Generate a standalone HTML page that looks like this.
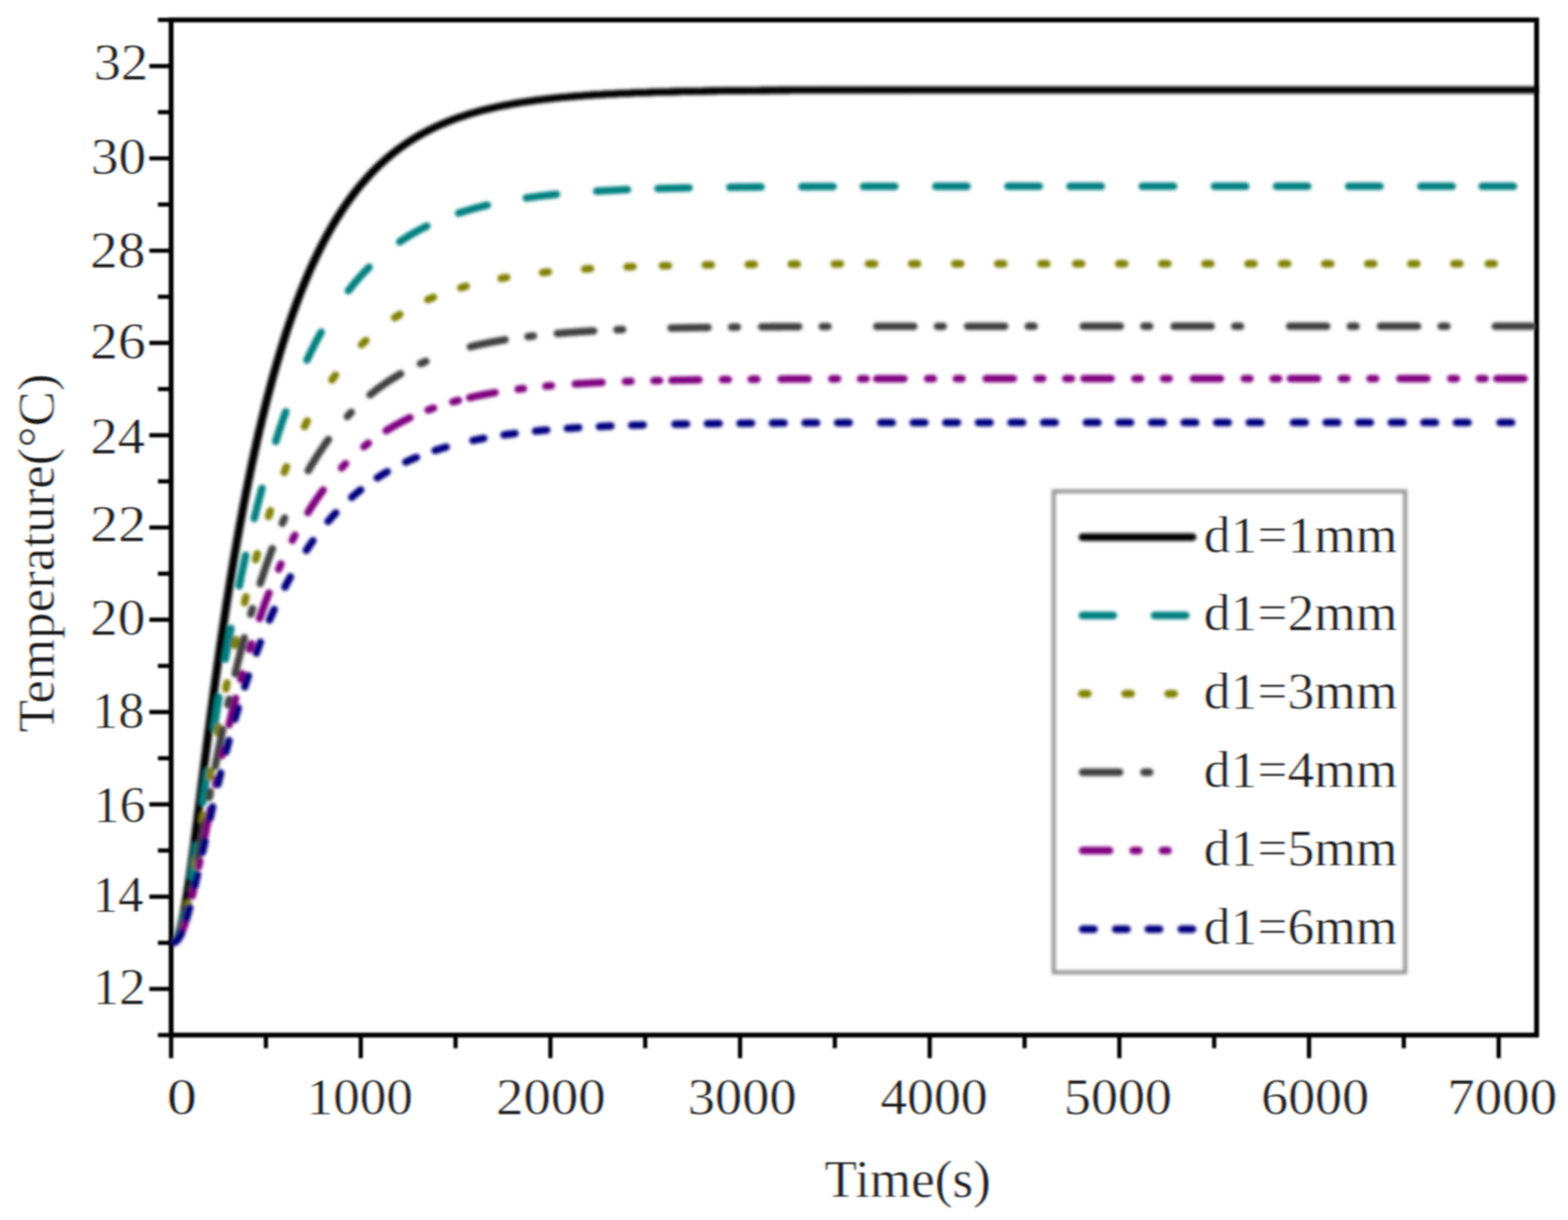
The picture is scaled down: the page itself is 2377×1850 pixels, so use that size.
<!DOCTYPE html>
<html lang="en"><head><meta charset="utf-8"><title>Temperature vs Time</title>
<style>html,body{margin:0;padding:0;background:#fff}body{width:2377px;height:1850px;overflow:hidden}svg{display:block}text{font-family:"Liberation Serif", "DejaVu Serif", serif;fill:#000}</style></head><body>
<svg width="2377" height="1850" viewBox="0 0 2377 1850">
<defs><filter id="bt" filterUnits="userSpaceOnUse" x="0" y="0" width="2377" height="1850"><feGaussianBlur stdDeviation="1.2"/></filter><filter id="ba" filterUnits="userSpaceOnUse" x="0" y="0" width="2377" height="1850"><feGaussianBlur stdDeviation="1.5"/></filter><filter id="bc" filterUnits="userSpaceOnUse" x="0" y="0" width="2377" height="1850"><feGaussianBlur stdDeviation="2.5"/></filter><filter id="ct" filterUnits="userSpaceOnUse" x="0" y="0" width="2377" height="1850" color-interpolation-filters="sRGB"><feColorMatrix in="SourceGraphic" type="matrix" values="0 0 0 0 0  0 0 0 0 0  0 0 0 0 0  -1 0 0 0 1" result="cov"/><feGaussianBlur in="cov" stdDeviation="1.5 1.2" result="a"/><feOffset in="a" dx="1.35" dy="0" result="ar"/><feOffset in="a" dx="-1.35" dy="0" result="ab"/><feColorMatrix in="ar" type="matrix" values="0 0 0 -0.9 1  0 0 0 0 0  0 0 0 0 0  0 0 0 0 1" result="r"/><feColorMatrix in="a" type="matrix" values="0 0 0 0 0  0 0 0 -0.9 1  0 0 0 0 0  0 0 0 0 1" result="g"/><feColorMatrix in="ab" type="matrix" values="0 0 0 0 0  0 0 0 0 0  0 0 0 -0.9 1  0 0 0 0 1" result="b"/><feComposite in="r" in2="g" operator="arithmetic" k1="0" k2="1" k3="1" k4="0" result="rg"/><feComposite in="rg" in2="b" operator="arithmetic" k1="0" k2="1" k3="1" k4="0"/></filter><clipPath id="plot"><rect x="251.4" y="30.2" width="2079.5" height="1549.4"/></clipPath></defs>
<rect width="2377" height="1850" fill="#fff"/>
<g filter="url(#ct)" stroke="#fff" stroke-width="0.8" stroke-linejoin="round"><rect width="2377" height="1850" fill="#fff" stroke="none"/>
<text x="141.9" y="120.3" font-size="78.5" textLength="82.6" lengthAdjust="spacingAndGlyphs">32</text>
<text x="137.7" y="263.1" font-size="78.5" textLength="83.8" lengthAdjust="spacingAndGlyphs">30</text>
<text x="136.6" y="405.0" font-size="78.5" textLength="83.7" lengthAdjust="spacingAndGlyphs">28</text>
<text x="136.6" y="543.1" font-size="78.5" textLength="84.2" lengthAdjust="spacingAndGlyphs">26</text>
<text x="136.9" y="686.6" font-size="78.5" textLength="82.7" lengthAdjust="spacingAndGlyphs">24</text>
<text x="136.6" y="819.6" font-size="78.5" textLength="85.0" lengthAdjust="spacingAndGlyphs">22</text>
<text x="136.6" y="962.2" font-size="78.5" textLength="83.7" lengthAdjust="spacingAndGlyphs">20</text>
<text x="139.6" y="1103.1" font-size="78.5" textLength="79.2" lengthAdjust="spacingAndGlyphs">18</text>
<text x="141.8" y="1245.7" font-size="78.5" textLength="78.9" lengthAdjust="spacingAndGlyphs">16</text>
<text x="140.5" y="1382.4" font-size="78.5" textLength="76.9" lengthAdjust="spacingAndGlyphs">14</text>
<text x="140.2" y="1521.5" font-size="78.5" textLength="80.4" lengthAdjust="spacingAndGlyphs">12</text>
<text x="253.0" y="1688.8" font-size="78.5" textLength="45.3" lengthAdjust="spacingAndGlyphs">0</text>
<text x="464.7" y="1688.8" font-size="78.5" textLength="161.2" lengthAdjust="spacingAndGlyphs">1000</text>
<text x="752.1" y="1688.8" font-size="78.5" textLength="166.0" lengthAdjust="spacingAndGlyphs">2000</text>
<text x="1042.4" y="1688.8" font-size="78.5" textLength="165.2" lengthAdjust="spacingAndGlyphs">3000</text>
<text x="1334.4" y="1688.8" font-size="78.5" textLength="162.8" lengthAdjust="spacingAndGlyphs">4000</text>
<text x="1612.8" y="1688.8" font-size="78.5" textLength="163.7" lengthAdjust="spacingAndGlyphs">5000</text>
<text x="1911.8" y="1688.8" font-size="78.5" textLength="163.5" lengthAdjust="spacingAndGlyphs">6000</text>
<text x="2193.7" y="1688.8" font-size="78.5" textLength="166.8" lengthAdjust="spacingAndGlyphs">7000</text>
<text x="1249.8" y="1815.0" font-size="80.0" textLength="252.2" lengthAdjust="spacingAndGlyphs">Time(s)</text>
<text transform="translate(80.5 1109.5) rotate(-90)" x="-0.9" y="0" font-size="79.0" textLength="544.0" lengthAdjust="spacingAndGlyphs">Temperature(°C)</text>
<text x="1824.8" y="836.8" font-size="79.0" textLength="293.6" lengthAdjust="spacingAndGlyphs">d1=1mm</text>
<text x="1824.8" y="955.3" font-size="79.0" textLength="293.6" lengthAdjust="spacingAndGlyphs">d1=2mm</text>
<text x="1824.8" y="1074.2" font-size="79.0" textLength="293.6" lengthAdjust="spacingAndGlyphs">d1=3mm</text>
<text x="1824.8" y="1193.0" font-size="79.0" textLength="293.6" lengthAdjust="spacingAndGlyphs">d1=4mm</text>
<text x="1824.8" y="1312.3" font-size="79.0" textLength="293.6" lengthAdjust="spacingAndGlyphs">d1=5mm</text>
<text x="1824.8" y="1431.0" font-size="79.0" textLength="293.6" lengthAdjust="spacingAndGlyphs">d1=6mm</text>
</g>
<g filter="url(#ba)"><g stroke="#000" fill="none">
<rect x="259.4" y="30.2" width="2070.0" height="1539.4" stroke-width="7.4"/>
<line x1="239.4" y1="1569.6" x2="259.4" y2="1569.6" stroke-width="6.4"/>
<line x1="226.4" y1="1499.6" x2="259.4" y2="1499.6" stroke-width="6.4"/>
<line x1="239.4" y1="1429.7" x2="259.4" y2="1429.7" stroke-width="6.4"/>
<line x1="226.4" y1="1359.7" x2="259.4" y2="1359.7" stroke-width="6.4"/>
<line x1="239.4" y1="1289.7" x2="259.4" y2="1289.7" stroke-width="6.4"/>
<line x1="226.4" y1="1219.7" x2="259.4" y2="1219.7" stroke-width="6.4"/>
<line x1="239.4" y1="1149.8" x2="259.4" y2="1149.8" stroke-width="6.4"/>
<line x1="226.4" y1="1079.8" x2="259.4" y2="1079.8" stroke-width="6.4"/>
<line x1="239.4" y1="1009.8" x2="259.4" y2="1009.8" stroke-width="6.4"/>
<line x1="226.4" y1="939.8" x2="259.4" y2="939.8" stroke-width="6.4"/>
<line x1="239.4" y1="869.9" x2="259.4" y2="869.9" stroke-width="6.4"/>
<line x1="226.4" y1="799.9" x2="259.4" y2="799.9" stroke-width="6.4"/>
<line x1="239.4" y1="729.9" x2="259.4" y2="729.9" stroke-width="6.4"/>
<line x1="226.4" y1="660.0" x2="259.4" y2="660.0" stroke-width="6.4"/>
<line x1="239.4" y1="590.0" x2="259.4" y2="590.0" stroke-width="6.4"/>
<line x1="226.4" y1="520.0" x2="259.4" y2="520.0" stroke-width="6.4"/>
<line x1="239.4" y1="450.0" x2="259.4" y2="450.0" stroke-width="6.4"/>
<line x1="226.4" y1="380.1" x2="259.4" y2="380.1" stroke-width="6.4"/>
<line x1="239.4" y1="310.1" x2="259.4" y2="310.1" stroke-width="6.4"/>
<line x1="226.4" y1="240.1" x2="259.4" y2="240.1" stroke-width="6.4"/>
<line x1="239.4" y1="170.1" x2="259.4" y2="170.1" stroke-width="6.4"/>
<line x1="226.4" y1="100.2" x2="259.4" y2="100.2" stroke-width="6.4"/>
<line x1="239.4" y1="30.2" x2="259.4" y2="30.2" stroke-width="6.4"/>
<line x1="259.4" y1="1569.6" x2="259.4" y2="1604.6" stroke-width="6.4"/>
<line x1="403.1" y1="1569.6" x2="403.1" y2="1589.6" stroke-width="6.4"/>
<line x1="546.9" y1="1569.6" x2="546.9" y2="1604.6" stroke-width="6.4"/>
<line x1="690.6" y1="1569.6" x2="690.6" y2="1589.6" stroke-width="6.4"/>
<line x1="834.4" y1="1569.6" x2="834.4" y2="1604.6" stroke-width="6.4"/>
<line x1="978.1" y1="1569.6" x2="978.1" y2="1589.6" stroke-width="6.4"/>
<line x1="1121.9" y1="1569.6" x2="1121.9" y2="1604.6" stroke-width="6.4"/>
<line x1="1265.6" y1="1569.6" x2="1265.6" y2="1589.6" stroke-width="6.4"/>
<line x1="1409.4" y1="1569.6" x2="1409.4" y2="1604.6" stroke-width="6.4"/>
<line x1="1553.2" y1="1569.6" x2="1553.2" y2="1589.6" stroke-width="6.4"/>
<line x1="1696.9" y1="1569.6" x2="1696.9" y2="1604.6" stroke-width="6.4"/>
<line x1="1840.6" y1="1569.6" x2="1840.6" y2="1589.6" stroke-width="6.4"/>
<line x1="1984.4" y1="1569.6" x2="1984.4" y2="1604.6" stroke-width="6.4"/>
<line x1="2128.1" y1="1569.6" x2="2128.1" y2="1589.6" stroke-width="6.4"/>
<line x1="2271.9" y1="1569.6" x2="2271.9" y2="1604.6" stroke-width="6.4"/>
</g></g>
<g filter="url(#bc)"><g fill="none" stroke-linejoin="round" stroke-linecap="round" clip-path="url(#plot)">
<path d="M259.4 1429.7 L262.4 1429.3 L264.9 1427.8 L266.8 1425.4 L268.3 1422.8 L269.5 1420.1 L270.6 1417.3 L271.5 1414.5 L272.4 1411.6 L273.2 1408.7 L274.0 1405.8 L274.7 1402.9 L275.4 1400.0 L276.1 1397.1 L276.7 1394.1 L277.3 1391.2 L277.9 1388.3 L278.5 1385.3 L279.1 1382.4 L279.6 1379.4 L280.2 1376.5 L280.7 1373.5 L281.2 1370.6 L281.7 1367.6 L282.2 1364.7 L282.7 1361.7 L283.2 1358.7 L283.6 1355.8 L284.1 1352.8 L284.6 1349.9 L285.0 1346.9 L285.5 1343.9 L285.9 1341.0 L286.4 1338.0 L286.8 1335.0 L287.2 1332.1 L287.7 1329.1 L288.1 1326.1 L288.5 1323.2 L288.9 1320.2 L289.3 1317.2 L289.8 1314.3 L290.2 1311.3 L290.6 1308.3 L291.0 1305.4 L291.4 1302.4 L291.8 1299.4 L292.2 1296.4 L292.6 1293.5 L293.0 1290.5 L293.4 1287.5 L293.8 1284.6 L294.2 1281.6 L294.6 1278.6 L294.9 1275.6 L295.3 1272.7 L295.7 1269.7 L296.1 1266.7 L296.5 1263.7 L296.9 1260.8 L297.3 1257.8 L297.6 1254.8 L298.0 1251.8 L298.4 1248.9 L298.8 1245.9 L299.2 1242.9 L299.5 1240.0 L299.9 1237.0 L300.3 1234.0 L300.7 1231.0 L301.1 1228.1 L301.4 1225.1 L301.8 1222.1 L302.2 1219.1 L302.6 1216.2 L302.9 1213.2 L303.3 1210.2 L303.7 1207.2 L304.1 1204.3 L304.4 1201.3 L304.8 1198.3 L305.2 1195.3 L305.6 1192.4 L305.9 1189.4 L306.3 1186.4 L306.7 1183.4 L307.1 1180.5 L307.5 1177.5 L307.8 1174.5 L308.2 1171.5 L308.6 1168.6 L309.0 1165.6 L309.3 1162.6 L309.7 1159.6 L310.1 1156.7 L310.5 1153.7 L310.9 1150.7 L311.2 1147.7 L311.6 1144.8 L312.0 1141.8 L312.4 1138.8 L312.8 1135.9 L313.1 1132.9 L313.5 1129.9 L313.9 1126.9 L314.3 1124.0 L314.7 1121.0 L315.1 1118.0 L315.4 1115.0 L315.8 1112.1 L316.2 1109.1 L316.6 1106.1 L317.0 1103.1 L317.4 1100.2 L317.8 1097.2 L318.2 1094.2 L318.5 1091.3 L318.9 1088.3 L319.3 1085.3 L319.7 1082.3 L320.1 1079.4 L320.5 1076.4 L320.9 1073.4 L321.3 1070.4 L321.7 1067.5 L322.1 1064.5 L322.5 1061.5 L322.9 1058.6 L323.3 1055.6 L323.7 1052.6 L324.1 1049.6 L324.5 1046.7 L324.9 1043.7 L325.3 1040.7 L325.7 1037.8 L326.1 1034.8 L326.5 1031.8 L326.9 1028.9 L327.4 1025.9 L327.8 1022.9 L328.2 1019.9 L328.6 1017.0 L329.0 1014.0 L329.4 1011.0 L329.8 1008.1 L330.3 1005.1 L330.7 1002.1 L331.1 999.2 L331.5 996.2 L332.0 993.2 L332.4 990.3 L332.8 987.3 L333.2 984.3 L333.7 981.4 L334.1 978.4 L334.5 975.4 L335.0 972.5 L335.4 969.5 L335.8 966.5 L336.3 963.6 L336.7 960.6 L337.1 957.6 L337.6 954.7 L338.0 951.7 L338.5 948.7 L338.9 945.8 L339.4 942.8 L339.8 939.8 L340.3 936.9 L340.7 933.9 L341.2 930.9 L341.6 928.0 L342.1 925.0 L342.5 922.1 L343.0 919.1 L343.4 916.1 L343.9 913.2 L344.4 910.2 L344.8 907.2 L345.3 904.3 L345.8 901.3 L346.2 898.4 L346.7 895.4 L347.2 892.4 L347.7 889.5 L348.1 886.5 L348.6 883.6 L349.1 880.6 L349.6 877.6 L350.1 874.7 L350.5 871.7 L351.0 868.8 L351.5 865.8 L352.0 862.8 L352.5 859.9 L353.0 856.9 L353.5 854.0 L354.0 851.0 L354.5 848.1 L355.0 845.1 L355.5 842.2 L356.0 839.2 L356.5 836.2 L357.0 833.3 L357.6 830.3 L358.1 827.4 L358.6 824.4 L359.1 821.5 L359.6 818.5 L360.1 815.6 L360.7 812.6 L361.2 809.7 L361.7 806.7 L362.3 803.8 L362.8 800.8 L363.3 797.9 L363.9 794.9 L364.4 792.0 L365.0 789.0 L365.5 786.1 L366.1 783.1 L366.6 780.2 L367.2 777.2 L367.7 774.3 L368.3 771.3 L368.8 768.4 L369.4 765.4 L370.0 762.5 L370.5 759.6 L371.1 756.6 L371.7 753.7 L372.3 750.7 L372.8 747.8 L373.4 744.9 L374.0 741.9 L374.6 739.0 L375.2 736.0 L375.8 733.1 L376.4 730.2 L377.0 727.2 L377.6 724.3 L378.2 721.3 L378.8 718.4 L379.4 715.5 L380.0 712.5 L380.6 709.6 L381.2 706.7 L381.8 703.7 L382.5 700.8 L383.1 697.9 L383.7 694.9 L384.4 692.0 L385.0 689.1 L385.6 686.1 L386.3 683.2 L386.9 680.3 L387.6 677.4 L388.2 674.4 L388.9 671.5 L389.6 668.6 L390.2 665.7 L390.9 662.7 L391.6 659.8 L392.2 656.9 L392.9 654.0 L393.6 651.1 L394.3 648.1 L395.0 645.2 L395.7 642.3 L396.4 639.4 L397.1 636.5 L397.8 633.6 L398.5 630.6 L399.2 627.7 L399.9 624.8 L400.6 621.9 L401.3 619.0 L402.1 616.1 L402.8 613.2 L403.5 610.3 L404.3 607.4 L405.0 604.5 L405.8 601.6 L406.5 598.7 L407.3 595.8 L408.1 592.9 L408.8 590.0 L409.6 587.1 L410.4 584.2 L411.1 581.3 L411.9 578.4 L412.7 575.5 L413.5 572.6 L414.3 569.7 L415.1 566.8 L415.9 563.9 L416.8 561.1 L417.6 558.2 L418.4 555.3 L419.2 552.4 L420.1 549.5 L420.9 546.7 L421.8 543.8 L422.6 540.9 L423.5 538.0 L424.3 535.2 L425.2 532.3 L426.1 529.4 L427.0 526.6 L427.8 523.7 L428.7 520.8 L429.6 518.0 L430.5 515.1 L431.5 512.3 L432.4 509.4 L433.3 506.6 L434.2 503.7 L435.2 500.9 L436.1 498.0 L437.1 495.2 L438.0 492.3 L439.0 489.5 L440.0 486.7 L440.9 483.8 L441.9 481.0 L442.9 478.2 L443.9 475.3 L444.9 472.5 L445.9 469.7 L447.0 466.9 L448.0 464.1 L449.0 461.2 L450.1 458.4 L451.1 455.6 L452.2 452.8 L453.3 450.0 L454.3 447.2 L455.4 444.4 L456.5 441.6 L457.6 438.8 L458.7 436.1 L459.9 433.3 L461.0 430.5 L462.1 427.7 L463.3 425.0 L464.5 422.2 L465.6 419.4 L466.8 416.7 L468.0 413.9 L469.2 411.2 L470.4 408.4 L471.6 405.7 L472.8 403.0 L474.1 400.2 L475.3 397.5 L476.6 394.8 L477.9 392.1 L479.2 389.4 L480.4 386.7 L481.8 384.0 L483.1 381.3 L484.4 378.6 L485.7 375.9 L487.1 373.2 L488.5 370.6 L489.8 367.9 L491.2 365.2 L492.6 362.6 L494.0 359.9 L495.5 357.3 L496.9 354.7 L498.4 352.1 L499.8 349.4 L501.3 346.8 L502.8 344.2 L504.3 341.7 L505.8 339.1 L507.4 336.5 L508.9 333.9 L510.5 331.4 L512.1 328.8 L513.7 326.3 L515.3 323.8 L516.9 321.2 L518.6 318.7 L520.2 316.2 L521.9 313.8 L523.6 311.3 L525.3 308.8 L527.0 306.4 L528.8 303.9 L530.5 301.5 L532.3 299.1 L534.1 296.7 L535.9 294.3 L537.7 291.9 L539.6 289.5 L541.4 287.2 L543.3 284.9 L545.2 282.5 L547.1 280.2 L549.1 277.9 L551.0 275.7 L553.0 273.4 L555.0 271.2 L557.0 268.9 L559.0 266.7 L561.0 264.5 L563.1 262.3 L565.2 260.2 L567.3 258.0 L569.4 255.9 L571.5 253.8 L573.7 251.7 L575.9 249.7 L578.1 247.6 L580.3 245.6 L582.5 243.6 L584.8 241.6 L587.0 239.7 L589.3 237.7 L591.6 235.8 L593.9 233.9 L596.3 232.0 L598.6 230.2 L601.0 228.3 L603.4 226.5 L605.8 224.7 L608.2 223.0 L610.7 221.2 L613.1 219.5 L615.6 217.8 L618.1 216.1 L620.6 214.5 L623.1 212.9 L625.6 211.3 L628.2 209.7 L630.8 208.2 L633.3 206.6 L635.9 205.1 L638.6 203.7 L641.2 202.2 L643.8 200.8 L646.5 199.4 L649.1 198.0 L651.8 196.6 L654.5 195.3 L657.2 194.0 L659.9 192.7 L662.6 191.5 L665.3 190.2 L668.1 189.0 L670.8 187.8 L673.6 186.6 L676.4 185.5 L679.1 184.4 L681.9 183.3 L684.7 182.2 L687.5 181.1 L690.3 180.1 L693.2 179.1 L696.0 178.1 L698.8 177.1 L701.7 176.2 L704.5 175.2 L707.4 174.3 L710.2 173.4 L713.1 172.5 L716.0 171.7 L718.9 170.8 L721.7 170.0 L724.6 169.2 L727.5 168.4 L730.4 167.7 L733.3 166.9 L736.2 166.2 L739.1 165.5 L742.1 164.8 L745.0 164.1 L747.9 163.4 L750.8 162.8 L753.8 162.1 L756.7 161.5 L759.6 160.9 L762.6 160.3 L765.5 159.7 L768.5 159.2 L771.4 158.6 L774.3 158.1 L777.3 157.5 L780.3 157.0 L783.2 156.5 L786.2 156.0 L789.1 155.5 L792.1 155.1 L795.0 154.6 L798.0 154.2 L801.0 153.7 L803.9 153.3 L806.9 152.9 L809.9 152.5 L812.9 152.1 L815.8 151.7 L818.8 151.3 L821.8 151.0 L824.8 150.6 L827.7 150.2 L830.7 149.9 L833.7 149.6 L836.7 149.2 L839.7 148.9 L842.6 148.6 L845.6 148.3 L848.6 148.0 L851.6 147.7 L854.6 147.4 L857.6 147.2 L860.5 146.9 L863.5 146.6 L866.5 146.4 L869.5 146.1 L872.5 145.9 L875.5 145.6 L878.5 145.4 L881.5 145.2 L884.5 145.0 L887.4 144.8 L890.4 144.5 L893.4 144.3 L896.4 144.1 L899.4 143.9 L902.4 143.8 L905.4 143.6 L908.4 143.4 L911.4 143.2 L914.4 143.0 L917.4 142.9 L920.4 142.7 L923.4 142.6 L926.3 142.4 L929.3 142.2 L932.3 142.1 L935.3 142.0 L938.3 141.8 L941.3 141.7 L944.3 141.5 L947.3 141.4 L950.3 141.3 L953.3 141.2 L956.3 141.0 L959.3 140.9 L962.3 140.8 L965.3 140.7 L968.3 140.6 L971.3 140.5 L974.3 140.4 L977.3 140.3 L980.3 140.2 L983.3 140.1 L986.3 140.0 L989.3 139.9 L992.3 139.8 L995.2 139.7 L998.2 139.6 L1001.2 139.5 L1004.2 139.4 L1007.2 139.4 L1010.2 139.3 L1013.2 139.2 L1016.2 139.1 L1019.2 139.1 L1022.2 139.0 L1025.2 138.9 L1028.2 138.9 L1031.2 138.8 L1034.2 138.7 L1037.2 138.7 L1040.2 138.6 L1043.2 138.5 L1046.2 138.5 L1049.2 138.4 L1052.2 138.4 L1055.2 138.3 L1058.2 138.3 L1061.2 138.2 L1064.2 138.2 L1067.2 138.1 L1070.2 138.1 L1073.2 138.0 L1076.2 138.0 L1079.2 137.9 L1082.2 137.9 L1085.2 137.9 L1088.2 137.8 L1091.2 137.8 L1094.2 137.7 L1097.2 137.7 L1100.2 137.7 L1103.2 137.6 L1106.2 137.6 L1109.2 137.6 L1112.2 137.5 L1115.2 137.5 L1118.2 137.5 L1121.1 137.4 L1124.1 137.4 L1127.1 137.4 L1130.1 137.3 L1133.1 137.3 L1136.1 137.3 L1139.1 137.3 L1142.1 137.2 L1145.1 137.2 L1148.1 137.2 L1151.1 137.2 L1154.1 137.1 L1157.1 137.1 L1160.1 137.1 L1163.1 137.1 L1166.1 137.0 L1169.1 137.0 L1172.1 137.0 L1175.1 137.0 L1178.1 137.0 L1181.1 136.9 L1184.1 136.9 L1187.1 136.9 L1190.1 136.9 L1193.1 136.9 L1196.1 136.9 L1199.1 136.8 L1202.1 136.8 L1205.1 136.8 L1208.1 136.8 L1211.1 136.8 L1214.1 136.8 L1217.1 136.8 L1220.1 136.7 L1223.1 136.7 L1226.1 136.7 L1229.1 136.7 L1232.1 136.7 L1235.1 136.7 L1238.1 136.7 L1241.1 136.7 L1244.1 136.6 L1247.1 136.6 L1250.1 136.6 L1253.1 136.6 L1256.1 136.6 L1259.1 136.6 L1262.1 136.6 L1265.1 136.6 L1268.1 136.6 L1271.1 136.6 L1274.1 136.5 L1277.0 136.5 L1280.0 136.5 L1283.0 136.5 L1286.0 136.5 L1289.0 136.5 L1292.0 136.5 L1295.0 136.5 L1298.0 136.5 L1301.0 136.5 L1304.0 136.5 L1307.0 136.5 L1310.0 136.5 L1313.0 136.5 L1316.0 136.4 L1319.0 136.4 L1322.0 136.4 L1325.0 136.4 L1328.0 136.4 L1331.0 136.4 L1334.0 136.4 L1337.0 136.4 L1340.0 136.4 L1343.0 136.4 L1346.0 136.4 L1349.0 136.4 L1352.0 136.4 L1355.0 136.4 L1358.0 136.4 L1361.0 136.4 L1364.0 136.4 L1367.0 136.4 L1370.0 136.4 L1373.0 136.4 L1376.0 136.3 L1379.0 136.3 L1382.0 136.3 L1385.0 136.3 L1388.0 136.3 L1391.0 136.3 L1394.0 136.3 L1397.0 136.3 L1400.0 136.3 L1403.0 136.3 L1406.0 136.3 L1409.0 136.3 L1412.0 136.3 L1415.0 136.3 L1418.0 136.3 L1421.0 136.3 L1424.0 136.3 L1427.0 136.3 L1430.0 136.3 L1433.0 136.3 L1436.0 136.3 L1438.9 136.3 L1441.9 136.3 L1444.9 136.3 L1447.9 136.3 L1450.9 136.3 L1453.9 136.3 L1456.9 136.3 L1459.9 136.3 L1462.9 136.3 L1465.9 136.3 L1468.9 136.3 L1471.9 136.3 L1474.9 136.3 L1477.9 136.3 L1480.9 136.3 L1483.9 136.3 L1486.9 136.3 L1489.9 136.3 L1492.9 136.3 L1495.9 136.3 L1498.9 136.3 L1501.9 136.3 L1504.9 136.3 L1507.9 136.2 L1510.9 136.2 L1513.9 136.2 L1516.9 136.2 L1519.9 136.2 L1522.9 136.2 L1525.9 136.2 L1528.9 136.2 L1531.9 136.2 L1534.9 136.2 L1537.9 136.2 L1540.9 136.2 L1543.9 136.2 L1546.9 136.2 L1549.9 136.2 L1552.9 136.2 L1555.9 136.2 L1558.9 136.2 L1561.9 136.2 L1564.9 136.2 L1567.9 136.2 L1570.9 136.2 L1573.9 136.2 L1576.9 136.2 L1579.9 136.2 L1582.9 136.2 L1585.9 136.2 L1588.9 136.2 L1591.9 136.2 L1594.9 136.2 L1597.9 136.2 L1600.8 136.2 L1603.8 136.2 L1606.8 136.2 L1609.8 136.2 L1612.8 136.2 L1615.8 136.2 L1618.8 136.2 L1621.8 136.2 L1624.8 136.2 L1627.8 136.2 L1630.8 136.2 L1633.8 136.2 L1636.8 136.2 L1639.8 136.2 L1642.8 136.2 L1645.8 136.2 L1648.8 136.2 L1651.8 136.2 L1654.8 136.2 L1657.8 136.2 L1660.8 136.2 L1663.8 136.2 L1666.8 136.2 L1669.8 136.2 L1672.8 136.2 L1675.8 136.2 L1678.8 136.2 L1681.8 136.2 L1684.8 136.2 L1687.8 136.2 L1690.8 136.2 L1693.8 136.2 L1696.8 136.2 L1699.8 136.2 L1702.8 136.2 L1705.8 136.2 L1708.8 136.2 L1711.8 136.2 L1714.8 136.2 L1717.8 136.2 L1720.8 136.2 L1723.8 136.2 L1726.8 136.2 L1729.8 136.2 L1732.8 136.2 L1735.8 136.2 L1738.8 136.2 L1741.8 136.2 L1744.8 136.2 L1747.8 136.2 L1750.8 136.2 L1753.8 136.2 L1756.8 136.2 L1759.8 136.2 L1762.7 136.2 L1765.7 136.2 L1768.7 136.2 L1771.7 136.2 L1774.7 136.2 L1777.7 136.2 L1780.7 136.2 L1783.7 136.2 L1786.7 136.2 L1789.7 136.2 L1792.7 136.2 L1795.7 136.2 L1798.7 136.2 L1801.7 136.2 L1804.7 136.2 L1807.7 136.2 L1810.7 136.2 L1813.7 136.2 L1816.7 136.2 L1819.7 136.2 L1822.7 136.2 L1825.7 136.2 L1828.7 136.2 L1831.7 136.2 L1834.7 136.2 L1837.7 136.2 L1840.7 136.2 L1843.7 136.2 L1846.7 136.2 L1849.7 136.2 L1852.7 136.2 L1855.7 136.2 L1858.7 136.2 L1861.7 136.2 L1864.7 136.2 L1867.7 136.2 L1870.7 136.2 L1873.7 136.2 L1876.7 136.2 L1879.7 136.2 L1882.7 136.2 L1885.7 136.2 L1888.7 136.2 L1891.7 136.2 L1894.7 136.2 L1897.7 136.2 L1900.7 136.2 L1903.7 136.2 L1906.7 136.2 L1909.7 136.2 L1912.7 136.2 L1915.7 136.2 L1918.7 136.2 L1921.7 136.2 L1924.6 136.2 L1927.6 136.2 L1930.6 136.2 L1933.6 136.2 L1936.6 136.2 L1939.6 136.2 L1942.6 136.2 L1945.6 136.2 L1948.6 136.2 L1951.6 136.2 L1954.6 136.2 L1957.6 136.2 L1960.6 136.2 L1963.6 136.2 L1966.6 136.2 L1969.6 136.2 L1972.6 136.2 L1975.6 136.2 L1978.6 136.2 L1981.6 136.2 L1984.6 136.2 L1987.6 136.2 L1990.6 136.2 L1993.6 136.2 L1996.6 136.2 L1999.6 136.2 L2002.6 136.2 L2005.6 136.2 L2008.6 136.2 L2011.6 136.2 L2014.6 136.2 L2017.6 136.2 L2020.6 136.2 L2023.6 136.2 L2026.6 136.2 L2029.6 136.2 L2032.6 136.2 L2035.6 136.2 L2038.6 136.2 L2041.6 136.2 L2044.6 136.2 L2047.6 136.2 L2050.6 136.2 L2053.6 136.2 L2056.6 136.2 L2059.6 136.2 L2062.6 136.2 L2065.6 136.2 L2068.6 136.2 L2071.6 136.2 L2074.6 136.2 L2077.6 136.2 L2080.6 136.2 L2083.6 136.2 L2086.5 136.2 L2089.5 136.2 L2092.5 136.2 L2095.5 136.2 L2098.5 136.2 L2101.5 136.2 L2104.5 136.2 L2107.5 136.2 L2110.5 136.2 L2113.5 136.2 L2116.5 136.2 L2119.5 136.2 L2122.5 136.2 L2125.5 136.2 L2128.5 136.2 L2131.5 136.2 L2134.5 136.2 L2137.5 136.2 L2140.5 136.2 L2143.5 136.2 L2146.5 136.2 L2149.5 136.2 L2152.5 136.2 L2155.5 136.2 L2158.5 136.2 L2161.5 136.2 L2164.5 136.2 L2167.5 136.2 L2170.5 136.2 L2173.5 136.2 L2176.5 136.2 L2179.5 136.2 L2182.5 136.2 L2185.5 136.2 L2188.5 136.2 L2191.5 136.2 L2194.5 136.2 L2197.5 136.2 L2200.5 136.2 L2203.5 136.2 L2206.5 136.2 L2209.5 136.2 L2212.5 136.2 L2215.5 136.2 L2218.5 136.2 L2221.5 136.2 L2224.5 136.2 L2227.5 136.2 L2230.5 136.2 L2233.5 136.2 L2236.5 136.2 L2239.5 136.2 L2242.5 136.2 L2245.5 136.2 L2248.4 136.2 L2251.4 136.2 L2254.4 136.2 L2257.4 136.2 L2260.4 136.2 L2263.4 136.2 L2266.4 136.2 L2269.4 136.2 L2272.4 136.2 L2275.4 136.2 L2278.4 136.2 L2281.4 136.2 L2284.4 136.2 L2287.4 136.2 L2290.4 136.2 L2293.4 136.2 L2296.4 136.2 L2299.4 136.2 L2302.4 136.2 L2305.4 136.2 L2308.4 136.2 L2311.4 136.2 L2314.4 136.2 L2317.4 136.2 L2320.4 136.2 L2323.4 136.2 L2326.4 136.2 L2329.4 136.2" stroke="#000000" stroke-width="10.6" stroke-linecap="butt"/>
<path d="M259.4 1429.7 L262.4 1429.3 L264.9 1427.8 L266.8 1425.4 L268.3 1422.8 L269.5 1420.1 L270.6 1417.3 L271.5 1414.5 L272.4 1411.6 L273.2 1408.7 L274.0 1405.8 L274.7 1402.9 L275.4 1400.0 L276.1 1397.1 L276.7 1394.1 L277.3 1391.2 L277.9 1388.3 L278.5 1385.3 L279.1 1382.4 L279.6 1379.4 L280.2 1376.5 L280.7 1373.5 L281.2 1370.6 L281.7 1367.6 L282.2 1364.7 L282.7 1361.7 L283.2 1358.7 L283.6 1355.8 L284.1 1352.8 L284.6 1349.9 L285.0 1346.9 L285.5 1343.9 L285.9 1341.0 L286.4 1338.0 L286.8 1335.0 L287.2 1332.1 L287.7 1329.1 L288.1 1326.1 L288.5 1323.2 L288.9 1320.2 L289.3 1317.2 L289.8 1314.3 L290.2 1311.3 L290.6 1308.3 L291.0 1305.4 L291.4 1302.4 L291.8 1299.4 L292.2 1296.4 L292.6 1293.5 L293.0 1290.5 L293.4 1287.5 L293.8 1284.6 L294.2 1281.6 L294.6 1278.6 L294.9 1275.6 L295.3 1272.7 L295.7 1269.7 L296.1 1266.7 L296.5 1263.7 L296.9 1260.8 L297.3 1257.8 L297.6 1254.8 L298.0 1251.8 L298.4 1248.9 L298.8 1245.9 L299.2 1242.9 L299.5 1240.0 L299.9 1237.0 L300.3 1234.0 L300.7 1231.0 L301.1 1228.1 L301.4 1225.1 L301.8 1222.1 L302.2 1219.1 L302.6 1216.2 L302.9 1213.2 L303.3 1210.2 L303.7 1207.2 L304.1 1204.3 L304.4 1201.3 L304.8 1198.3 L305.2 1195.3 L305.6 1192.4 L305.9 1189.4 L306.3 1186.4 L306.7 1183.4 L307.1 1180.5 L307.5 1177.5 L307.8 1174.5 L308.2 1171.5 L308.6 1168.6 L309.0 1165.6 L309.3 1162.6 L309.7 1159.6 L310.1 1156.7 L310.5 1153.7 L310.9 1150.7 L311.2 1147.7 L311.6 1144.8 L312.0 1141.8 L312.4 1138.8 L312.8 1135.9 L313.1 1132.9 L313.5 1129.9 L313.9 1126.9 L314.3 1124.0 L314.7 1121.0 L315.1 1118.0 L315.4 1115.0 L315.8 1112.1 L316.2 1109.1 L316.6 1106.1 L317.0 1103.1 L317.4 1100.2 L317.8 1097.2 L318.2 1094.2 L318.5 1091.3 L318.9 1088.3 L319.3 1085.3 L319.7 1082.3 L320.1 1079.4 L320.5 1076.4 L320.9 1073.4 L321.3 1070.4 L321.7 1067.5 L322.1 1064.5 L322.5 1061.5 L322.9 1058.6 L323.3 1055.6 L323.7 1052.6 L324.1 1049.6 L324.5 1046.7 L324.9 1043.7 L325.3 1040.7 L325.7 1037.8 L326.1 1034.8 L326.5 1031.8 L326.9 1028.9 L327.4 1025.9 L327.8 1022.9 L328.2 1019.9 L328.6 1017.0 L329.0 1014.0 L329.4 1011.0 L329.8 1008.1 L330.3 1005.1 L330.7 1002.1 L331.1 999.2 L331.5 996.2 L332.0 993.2 L332.4 990.3 L332.8 987.3 L333.2 984.3 L333.7 981.4 L334.1 978.4 L334.5 975.4 L335.0 972.5 L335.4 969.5 L335.8 966.5 L336.3 963.6 L336.7 960.6 L337.1 957.6 L337.6 954.7 L338.0 951.7 L338.5 948.7 L338.9 945.8 L339.4 942.8 L339.8 939.8 L340.3 936.9 L340.7 933.9 L341.2 930.9 L341.6 928.0 L342.1 925.0 L342.5 922.1 L343.0 919.1 L343.4 916.1 L343.9 913.2 L344.4 910.2 L344.8 907.2 L345.3 904.3 L345.8 901.3 L346.2 898.4 L346.7 895.4 L347.2 892.4 L347.7 889.5 L348.1 886.5 L348.6 883.6 L349.1 880.6 L349.6 877.6 L350.1 874.7 L350.5 871.7 L351.0 868.8 L351.5 865.8 L352.0 862.8 L352.5 859.9 L353.0 856.9 L353.5 854.0 L354.0 851.0 L354.5 848.1 L355.0 845.1 L355.5 842.2 L356.0 839.2 L356.5 836.2 L357.0 833.3 L357.6 830.3 L358.1 827.4 L358.6 824.4 L359.1 821.5 L359.6 818.5 L360.1 815.6 L360.7 812.6 L361.2 809.7 L361.7 806.7 L362.3 803.8 L362.8 800.8 L363.3 797.9 L363.9 794.9 L364.4 792.0 L365.0 789.0 L365.5 786.1 L366.1 783.1 L366.6 780.2 L367.2 777.2 L367.7 774.3 L368.3 771.3 L368.8 768.4 L369.4 765.4 L370.0 762.5 L370.5 759.6 L371.1 756.6 L371.7 753.7 L372.3 750.7 L372.8 747.8 L373.4 744.9 L374.0 741.9 L374.6 739.0 L375.2 736.0 L375.8 733.1 L376.4 730.2 L377.0 727.2 L377.6 724.3 L378.2 721.3 L378.8 718.4 L379.4 715.5 L380.0 712.5 L380.6 709.6 L381.2 706.7 L381.8 703.7 L382.5 700.8 L383.1 697.9 L383.7 694.9 L384.4 692.0 L385.0 689.1 L385.6 686.1 L386.3 683.2 L386.9 680.3 L387.6 677.4 L388.2 674.4 L388.9 671.5 L389.6 668.6 L390.2 665.7 L390.9 662.7 L391.6 659.8 L392.2 656.9 L392.9 654.0 L393.6 651.1 L394.3 648.1 L395.0 645.2 L395.7 642.3 L396.4 639.4 L397.1 636.5 L397.8 633.6 L398.5 630.6 L399.2 627.7 L399.9 624.8 L400.6 621.9 L401.3 619.0 L402.1 616.1 L402.8 613.2 L403.5 610.3 L404.3 607.4 L405.0 604.5 L405.8 601.6 L406.5 598.7 L407.3 595.8 L408.1 592.9 L408.8 590.0 L409.6 587.1 L410.4 584.2 L411.1 581.3 L411.9 578.4 L412.7 575.5 L413.5 572.6 L414.3 569.7 L415.1 566.8 L415.9 563.9 L416.8 561.1 L417.6 558.2 L418.4 555.3 L419.2 552.4 L420.1 549.5 L420.9 546.7 L421.8 543.8 L422.6 540.9 L423.5 538.0 L424.3 535.2 L425.2 532.3 L426.1 529.4 L427.0 526.6 L427.8 523.7 L428.7 520.8 L429.6 518.0 L430.5 515.1 L431.5 512.3 L432.4 509.4 L433.3 506.6 L434.2 503.7 L435.2 500.9 L436.1 498.0 L437.1 495.2 L438.0 492.3 L439.0 489.5 L440.0 486.7 L440.9 483.8 L441.9 481.0 L442.9 478.2 L443.9 475.3 L444.9 472.5 L445.9 469.7 L447.0 466.9 L448.0 464.1 L449.0 461.2 L450.1 458.4 L451.1 455.6 L452.2 452.8 L453.3 450.0 L454.3 447.2 L455.4 444.4 L456.5 441.6 L457.6 438.8 L458.7 436.1 L459.9 433.3 L461.0 430.5 L462.1 427.7 L463.3 425.0 L464.5 422.2 L465.6 419.4 L466.8 416.7 L468.0 413.9 L469.2 411.2 L470.4 408.4 L471.6 405.7 L472.8 403.0 L474.1 400.2 L475.3 397.5 L476.6 394.8 L477.9 392.1 L479.2 389.4 L480.4 386.7 L481.8 384.0 L483.1 381.3 L484.4 378.6 L485.7 375.9 L487.1 373.2 L488.5 370.6 L489.8 367.9 L491.2 365.2 L492.6 362.6 L494.0 359.9 L495.5 357.3 L496.9 354.7 L498.4 352.1 L499.8 349.4 L501.3 346.8 L502.8 344.2 L504.3 341.7 L505.8 339.1 L507.4 336.5 L508.9 333.9 L510.5 331.4 L512.1 328.8 L513.7 326.3 L515.3 323.8 L516.9 321.2 L518.6 318.7 L520.2 316.2 L521.9 313.8 L523.6 311.3 L525.3 308.8 L527.0 306.4 L528.8 303.9 L530.5 301.5 L532.3 299.1 L534.1 296.7 L535.9 294.3 L537.7 291.9 L539.6 289.5 L541.4 287.2 L543.3 284.9 L545.2 282.5 L547.1 280.2 L549.1 277.9 L551.0 275.7 L553.0 273.4 L555.0 271.2 L557.0 268.9 L559.0 266.7 L561.0 264.5 L563.1 262.3 L565.2 260.2 L567.3 258.0 L569.4 255.9 L571.5 253.8 L573.7 251.7 L575.9 249.7 L578.1 247.6 L580.3 245.6 L582.5 243.6 L584.8 241.6 L587.0 239.7 L589.3 237.7 L591.6 235.8 L593.9 233.9 L596.3 232.0 L598.6 230.2 L601.0 228.3 L603.4 226.5 L605.8 224.7 L608.2 223.0 L610.7 221.2 L613.1 219.5 L615.6 217.8 L618.1 216.1 L620.6 214.5 L623.1 212.9 L625.6 211.3 L628.2 209.7 L630.8 208.2 L633.3 206.6 L635.9 205.1 L638.6 203.7 L641.2 202.2 L643.8 200.8 L646.5 199.4 L649.1 198.0 L651.8 196.6 L654.5 195.3 L657.2 194.0 L659.9 192.7 L662.6 191.5 L665.3 190.2 L668.1 189.0 L670.8 187.8 L673.6 186.6 L676.4 185.5 L679.1 184.4 L681.9 183.3 L684.7 182.2 L687.5 181.1 L690.3 180.1 L693.2 179.1 L696.0 178.1 L698.8 177.1 L701.7 176.2 L704.5 175.2 L707.4 174.3 L710.2 173.4 L713.1 172.5 L716.0 171.7 L718.9 170.8 L721.7 170.0 L724.6 169.2 L727.5 168.4 L730.4 167.7 L733.3 166.9 L736.2 166.2 L739.1 165.5 L742.1 164.8 L745.0 164.1 L747.9 163.4 L750.8 162.8 L753.8 162.1 L756.7 161.5 L759.6 160.9 L762.6 160.3 L765.5 159.7 L768.5 159.2 L771.4 158.6 L774.3 158.1 L777.3 157.5 L780.3 157.0 L783.2 156.5 L786.2 156.0 L789.1 155.5 L792.1 155.1 L795.0 154.6 L798.0 154.2 L801.0 153.7 L803.9 153.3 L806.9 152.9 L809.9 152.5 L812.9 152.1 L815.8 151.7 L818.8 151.3 L821.8 151.0 L824.8 150.6 L827.7 150.2 L830.7 149.9 L833.7 149.6 L836.7 149.2 L839.7 148.9 L842.6 148.6 L845.6 148.3 L848.6 148.0 L851.6 147.7 L854.6 147.4 L857.6 147.2 L860.5 146.9 L863.5 146.6 L866.5 146.4 L869.5 146.1 L872.5 145.9 L875.5 145.6 L878.5 145.4 L881.5 145.2 L884.5 145.0 L887.4 144.8 L890.4 144.5 L893.4 144.3 L896.4 144.1 L899.4 143.9 L902.4 143.8 L905.4 143.6 L908.4 143.4 L911.4 143.2 L914.4 143.0 L917.4 142.9 L920.4 142.7 L923.4 142.6 L926.3 142.4 L929.3 142.2 L932.3 142.1 L935.3 142.0 L938.3 141.8 L941.3 141.7 L944.3 141.5 L947.3 141.4 L950.3 141.3 L953.3 141.2 L956.3 141.0 L959.3 140.9 L962.3 140.8 L965.3 140.7 L968.3 140.6 L971.3 140.5 L974.3 140.4 L977.3 140.3 L980.3 140.2 L983.3 140.1 L986.3 140.0 L989.3 139.9 L992.3 139.8 L995.2 139.7 L998.2 139.6 L1001.2 139.5 L1004.2 139.4 L1007.2 139.4 L1010.2 139.3 L1013.2 139.2 L1016.2 139.1 L1019.2 139.1 L1022.2 139.0 L1025.2 138.9 L1028.2 138.9 L1031.2 138.8 L1034.2 138.7 L1037.2 138.7 L1040.2 138.6 L1043.2 138.5 L1046.2 138.5 L1049.2 138.4 L1052.2 138.4 L1055.2 138.3 L1058.2 138.3 L1061.2 138.2 L1064.2 138.2 L1067.2 138.1 L1070.2 138.1 L1073.2 138.0 L1076.2 138.0 L1079.2 137.9 L1082.2 137.9 L1085.2 137.9 L1088.2 137.8 L1091.2 137.8 L1094.2 137.7 L1097.2 137.7 L1100.2 137.7 L1103.2 137.6 L1106.2 137.6 L1109.2 137.6 L1112.2 137.5 L1115.2 137.5 L1118.2 137.5 L1121.1 137.4 L1124.1 137.4 L1127.1 137.4 L1130.1 137.3 L1133.1 137.3 L1136.1 137.3 L1139.1 137.3 L1142.1 137.2 L1145.1 137.2 L1148.1 137.2 L1151.1 137.2 L1154.1 137.1 L1157.1 137.1 L1160.1 137.1 L1163.1 137.1 L1166.1 137.0 L1169.1 137.0 L1172.1 137.0 L1175.1 137.0 L1178.1 137.0 L1181.1 136.9 L1184.1 136.9 L1187.1 136.9 L1190.1 136.9 L1193.1 136.9 L1196.1 136.9 L1199.1 136.8 L1202.1 136.8 L1205.1 136.8 L1208.1 136.8 L1211.1 136.8 L1214.1 136.8 L1217.1 136.8 L1220.1 136.7 L1223.1 136.7 L1226.1 136.7 L1229.1 136.7 L1232.1 136.7 L1235.1 136.7 L1238.1 136.7 L1241.1 136.7 L1244.1 136.6 L1247.1 136.6 L1250.1 136.6 L1253.1 136.6 L1256.1 136.6 L1259.1 136.6 L1262.1 136.6 L1265.1 136.6 L1268.1 136.6 L1271.1 136.6 L1274.1 136.5 L1277.0 136.5 L1280.0 136.5 L1283.0 136.5 L1286.0 136.5 L1289.0 136.5 L1292.0 136.5 L1295.0 136.5 L1298.0 136.5 L1301.0 136.5 L1304.0 136.5 L1307.0 136.5 L1310.0 136.5 L1313.0 136.5 L1316.0 136.4 L1319.0 136.4 L1322.0 136.4 L1325.0 136.4 L1328.0 136.4 L1331.0 136.4 L1334.0 136.4 L1337.0 136.4 L1340.0 136.4 L1343.0 136.4 L1346.0 136.4 L1349.0 136.4 L1352.0 136.4 L1355.0 136.4 L1358.0 136.4 L1361.0 136.4 L1364.0 136.4 L1367.0 136.4 L1370.0 136.4 L1373.0 136.4 L1376.0 136.3 L1379.0 136.3 L1382.0 136.3 L1385.0 136.3 L1388.0 136.3 L1391.0 136.3 L1394.0 136.3 L1397.0 136.3 L1400.0 136.3 L1403.0 136.3 L1406.0 136.3 L1409.0 136.3 L1412.0 136.3 L1415.0 136.3 L1418.0 136.3 L1421.0 136.3 L1424.0 136.3 L1427.0 136.3 L1430.0 136.3 L1433.0 136.3 L1436.0 136.3 L1438.9 136.3 L1441.9 136.3 L1444.9 136.3 L1447.9 136.3 L1450.9 136.3 L1453.9 136.3 L1456.9 136.3 L1459.9 136.3 L1462.9 136.3 L1465.9 136.3 L1468.9 136.3 L1471.9 136.3 L1474.9 136.3 L1477.9 136.3 L1480.9 136.3 L1483.9 136.3 L1486.9 136.3 L1489.9 136.3 L1492.9 136.3 L1495.9 136.3 L1498.9 136.3 L1501.9 136.3 L1504.9 136.3 L1507.9 136.2 L1510.9 136.2 L1513.9 136.2 L1516.9 136.2 L1519.9 136.2 L1522.9 136.2 L1525.9 136.2 L1528.9 136.2 L1531.9 136.2 L1534.9 136.2 L1537.9 136.2 L1540.9 136.2 L1543.9 136.2 L1546.9 136.2 L1549.9 136.2 L1552.9 136.2 L1555.9 136.2 L1558.9 136.2 L1561.9 136.2 L1564.9 136.2 L1567.9 136.2 L1570.9 136.2 L1573.9 136.2 L1576.9 136.2 L1579.9 136.2 L1582.9 136.2 L1585.9 136.2 L1588.9 136.2 L1591.9 136.2 L1594.9 136.2 L1597.9 136.2 L1600.8 136.2 L1603.8 136.2 L1606.8 136.2 L1609.8 136.2 L1612.8 136.2 L1615.8 136.2 L1618.8 136.2 L1621.8 136.2 L1624.8 136.2 L1627.8 136.2 L1630.8 136.2 L1633.8 136.2 L1636.8 136.2 L1639.8 136.2 L1642.8 136.2 L1645.8 136.2 L1648.8 136.2 L1651.8 136.2 L1654.8 136.2 L1657.8 136.2 L1660.8 136.2 L1663.8 136.2 L1666.8 136.2 L1669.8 136.2 L1672.8 136.2 L1675.8 136.2 L1678.8 136.2 L1681.8 136.2 L1684.8 136.2 L1687.8 136.2 L1690.8 136.2 L1693.8 136.2 L1696.8 136.2 L1699.8 136.2 L1702.8 136.2 L1705.8 136.2 L1708.8 136.2 L1711.8 136.2 L1714.8 136.2 L1717.8 136.2 L1720.8 136.2 L1723.8 136.2 L1726.8 136.2 L1729.8 136.2 L1732.8 136.2 L1735.8 136.2 L1738.8 136.2 L1741.8 136.2 L1744.8 136.2 L1747.8 136.2 L1750.8 136.2 L1753.8 136.2 L1756.8 136.2 L1759.8 136.2 L1762.7 136.2 L1765.7 136.2 L1768.7 136.2 L1771.7 136.2 L1774.7 136.2 L1777.7 136.2 L1780.7 136.2 L1783.7 136.2 L1786.7 136.2 L1789.7 136.2 L1792.7 136.2 L1795.7 136.2 L1798.7 136.2 L1801.7 136.2 L1804.7 136.2 L1807.7 136.2 L1810.7 136.2 L1813.7 136.2 L1816.7 136.2 L1819.7 136.2 L1822.7 136.2 L1825.7 136.2 L1828.7 136.2 L1831.7 136.2 L1834.7 136.2 L1837.7 136.2 L1840.7 136.2 L1843.7 136.2 L1846.7 136.2 L1849.7 136.2 L1852.7 136.2 L1855.7 136.2 L1858.7 136.2 L1861.7 136.2 L1864.7 136.2 L1867.7 136.2 L1870.7 136.2 L1873.7 136.2 L1876.7 136.2 L1879.7 136.2 L1882.7 136.2 L1885.7 136.2 L1888.7 136.2 L1891.7 136.2 L1894.7 136.2 L1897.7 136.2 L1900.7 136.2 L1903.7 136.2 L1906.7 136.2 L1909.7 136.2 L1912.7 136.2 L1915.7 136.2 L1918.7 136.2 L1921.7 136.2 L1924.6 136.2 L1927.6 136.2 L1930.6 136.2 L1933.6 136.2 L1936.6 136.2 L1939.6 136.2 L1942.6 136.2 L1945.6 136.2 L1948.6 136.2 L1951.6 136.2 L1954.6 136.2 L1957.6 136.2 L1960.6 136.2 L1963.6 136.2 L1966.6 136.2 L1969.6 136.2 L1972.6 136.2 L1975.6 136.2 L1978.6 136.2 L1981.6 136.2 L1984.6 136.2 L1987.6 136.2 L1990.6 136.2 L1993.6 136.2 L1996.6 136.2 L1999.6 136.2 L2002.6 136.2 L2005.6 136.2 L2008.6 136.2 L2011.6 136.2 L2014.6 136.2 L2017.6 136.2 L2020.6 136.2 L2023.6 136.2 L2026.6 136.2 L2029.6 136.2 L2032.6 136.2 L2035.6 136.2 L2038.6 136.2 L2041.6 136.2 L2044.6 136.2 L2047.6 136.2 L2050.6 136.2 L2053.6 136.2 L2056.6 136.2 L2059.6 136.2 L2062.6 136.2 L2065.6 136.2 L2068.6 136.2 L2071.6 136.2 L2074.6 136.2 L2077.6 136.2 L2080.6 136.2 L2083.6 136.2 L2086.5 136.2 L2089.5 136.2 L2092.5 136.2 L2095.5 136.2 L2098.5 136.2 L2101.5 136.2 L2104.5 136.2 L2107.5 136.2 L2110.5 136.2 L2113.5 136.2 L2116.5 136.2 L2119.5 136.2 L2122.5 136.2 L2125.5 136.2 L2128.5 136.2 L2131.5 136.2 L2134.5 136.2 L2137.5 136.2 L2140.5 136.2 L2143.5 136.2 L2146.5 136.2 L2149.5 136.2 L2152.5 136.2 L2155.5 136.2 L2158.5 136.2 L2161.5 136.2 L2164.5 136.2 L2167.5 136.2 L2170.5 136.2 L2173.5 136.2 L2176.5 136.2 L2179.5 136.2 L2182.5 136.2 L2185.5 136.2 L2188.5 136.2 L2191.5 136.2 L2194.5 136.2 L2197.5 136.2 L2200.5 136.2 L2203.5 136.2 L2206.5 136.2 L2209.5 136.2 L2212.5 136.2 L2215.5 136.2 L2218.5 136.2 L2221.5 136.2 L2224.5 136.2 L2227.5 136.2 L2230.5 136.2 L2233.5 136.2 L2236.5 136.2 L2239.5 136.2 L2242.5 136.2 L2245.5 136.2 L2248.4 136.2 L2251.4 136.2 L2254.4 136.2 L2257.4 136.2 L2260.4 136.2 L2263.4 136.2 L2266.4 136.2 L2269.4 136.2 L2272.4 136.2 L2275.4 136.2 L2278.4 136.2 L2281.4 136.2 L2284.4 136.2 L2287.4 136.2 L2290.4 136.2 L2293.4 136.2 L2296.4 136.2 L2299.4 136.2 L2302.4 136.2 L2305.4 136.2 L2308.4 136.2 L2311.4 136.2 L2314.4 136.2 L2317.4 136.2 L2320.4 136.2 L2323.4 136.2 L2326.4 136.2 L2329.4 136.2" stroke="#000000" stroke-width="10.6" stroke-linecap="butt" transform="translate(0.9 0)"/>
<path d="M259.4 1429.7 L262.4 1429.3 L264.9 1427.8 L266.8 1425.4 L268.3 1422.8 L269.5 1420.1 L270.6 1417.3 L271.5 1414.5 L272.4 1411.6 L273.2 1408.7 L274.0 1405.8 L274.7 1402.9 L275.4 1400.0 L276.1 1397.1 L276.7 1394.1 L277.3 1391.2 L277.9 1388.3 L278.5 1385.3 L279.1 1382.4 L279.6 1379.4 L280.2 1376.5 L280.7 1373.5 L281.2 1370.6 L281.7 1367.6 L282.2 1364.7 L282.7 1361.7 L283.2 1358.7 L283.6 1355.8 L284.1 1352.8 L284.6 1349.9 L285.0 1346.9 L285.5 1343.9 L285.9 1341.0 L286.4 1338.0 L286.8 1335.0 L287.2 1332.1 L287.7 1329.1 L288.1 1326.1 L288.5 1323.2 L288.9 1320.2 L289.3 1317.2 L289.8 1314.3 L290.2 1311.3 L290.6 1308.3 L291.0 1305.4 L291.4 1302.4 L291.8 1299.4 L292.2 1296.4 L292.6 1293.5 L293.0 1290.5 L293.4 1287.5 L293.8 1284.6 L294.2 1281.6 L294.6 1278.6 L294.9 1275.6 L295.3 1272.7 L295.7 1269.7 L296.1 1266.7 L296.5 1263.7 L296.9 1260.8 L297.3 1257.8 L297.6 1254.8 L298.0 1251.8 L298.4 1248.9 L298.8 1245.9 L299.2 1242.9 L299.5 1240.0 L299.9 1237.0 L300.3 1234.0 L300.7 1231.0 L301.1 1228.1 L301.4 1225.1 L301.8 1222.1 L302.2 1219.1 L302.6 1216.2 L302.9 1213.2 L303.3 1210.2 L303.7 1207.2 L304.1 1204.3 L304.4 1201.3 L304.8 1198.3 L305.2 1195.3 L305.6 1192.4 L305.9 1189.4 L306.3 1186.4 L306.7 1183.4 L307.1 1180.5 L307.5 1177.5 L307.8 1174.5 L308.2 1171.5 L308.6 1168.6 L309.0 1165.6 L309.3 1162.6 L309.7 1159.6 L310.1 1156.7 L310.5 1153.7 L310.9 1150.7 L311.2 1147.7 L311.6 1144.8 L312.0 1141.8 L312.4 1138.8 L312.8 1135.9 L313.1 1132.9 L313.5 1129.9 L313.9 1126.9 L314.3 1124.0 L314.7 1121.0 L315.1 1118.0 L315.4 1115.0 L315.8 1112.1 L316.2 1109.1 L316.6 1106.1 L317.0 1103.1 L317.4 1100.2 L317.8 1097.2 L318.2 1094.2 L318.5 1091.3 L318.9 1088.3 L319.3 1085.3 L319.7 1082.3 L320.1 1079.4 L320.5 1076.4 L320.9 1073.4 L321.3 1070.4 L321.7 1067.5 L322.1 1064.5 L322.5 1061.5 L322.9 1058.6 L323.3 1055.6 L323.7 1052.6 L324.1 1049.6 L324.5 1046.7 L324.9 1043.7 L325.3 1040.7 L325.7 1037.8 L326.1 1034.8 L326.5 1031.8 L326.9 1028.9 L327.4 1025.9 L327.8 1022.9 L328.2 1019.9 L328.6 1017.0 L329.0 1014.0 L329.4 1011.0 L329.8 1008.1 L330.3 1005.1 L330.7 1002.1 L331.1 999.2 L331.5 996.2 L332.0 993.2 L332.4 990.3 L332.8 987.3 L333.2 984.3 L333.7 981.4 L334.1 978.4 L334.5 975.4 L335.0 972.5 L335.4 969.5 L335.8 966.5 L336.3 963.6 L336.7 960.6 L337.1 957.6 L337.6 954.7 L338.0 951.7 L338.5 948.7 L338.9 945.8 L339.4 942.8 L339.8 939.8 L340.3 936.9 L340.7 933.9 L341.2 930.9 L341.6 928.0 L342.1 925.0 L342.5 922.1 L343.0 919.1 L343.4 916.1 L343.9 913.2 L344.4 910.2 L344.8 907.2 L345.3 904.3 L345.8 901.3 L346.2 898.4 L346.7 895.4 L347.2 892.4 L347.7 889.5 L348.1 886.5 L348.6 883.6 L349.1 880.6 L349.6 877.6 L350.1 874.7 L350.5 871.7 L351.0 868.8 L351.5 865.8 L352.0 862.8 L352.5 859.9 L353.0 856.9 L353.5 854.0 L354.0 851.0 L354.5 848.1 L355.0 845.1 L355.5 842.2 L356.0 839.2 L356.5 836.2 L357.0 833.3 L357.6 830.3 L358.1 827.4 L358.6 824.4 L359.1 821.5 L359.6 818.5 L360.1 815.6 L360.7 812.6 L361.2 809.7 L361.7 806.7 L362.3 803.8 L362.8 800.8 L363.3 797.9 L363.9 794.9 L364.4 792.0 L365.0 789.0 L365.5 786.1 L366.1 783.1 L366.6 780.2 L367.2 777.2 L367.7 774.3 L368.3 771.3 L368.8 768.4 L369.4 765.4 L370.0 762.5 L370.5 759.6 L371.1 756.6 L371.7 753.7 L372.3 750.7 L372.8 747.8 L373.4 744.9 L374.0 741.9 L374.6 739.0 L375.2 736.0 L375.8 733.1 L376.4 730.2 L377.0 727.2 L377.6 724.3 L378.2 721.3 L378.8 718.4 L379.4 715.5 L380.0 712.5 L380.6 709.6 L381.2 706.7 L381.8 703.7 L382.5 700.8 L383.1 697.9 L383.7 694.9 L384.4 692.0 L385.0 689.1 L385.6 686.1 L386.3 683.2 L386.9 680.3 L387.6 677.4 L388.2 674.4 L388.9 671.5 L389.6 668.6 L390.2 665.7 L390.9 662.7 L391.6 659.8 L392.2 656.9 L392.9 654.0 L393.6 651.1 L394.3 648.1 L395.0 645.2 L395.7 642.3 L396.4 639.4 L397.1 636.5 L397.8 633.6 L398.5 630.6 L399.2 627.7 L399.9 624.8 L400.6 621.9 L401.3 619.0 L402.1 616.1 L402.8 613.2 L403.5 610.3 L404.3 607.4 L405.0 604.5 L405.8 601.6 L406.5 598.7 L407.3 595.8 L408.1 592.9 L408.8 590.0 L409.6 587.1 L410.4 584.2 L411.1 581.3 L411.9 578.4 L412.7 575.5 L413.5 572.6 L414.3 569.7 L415.1 566.8 L415.9 563.9 L416.8 561.1 L417.6 558.2 L418.4 555.3 L419.2 552.4 L420.1 549.5 L420.9 546.7 L421.8 543.8 L422.6 540.9 L423.5 538.0 L424.3 535.2 L425.2 532.3 L426.1 529.4 L427.0 526.6 L427.8 523.7 L428.7 520.8 L429.6 518.0 L430.5 515.1 L431.5 512.3 L432.4 509.4 L433.3 506.6 L434.2 503.7 L435.2 500.9 L436.1 498.0 L437.1 495.2 L438.0 492.3 L439.0 489.5 L440.0 486.7 L440.9 483.8 L441.9 481.0 L442.9 478.2 L443.9 475.3 L444.9 472.5 L445.9 469.7 L447.0 466.9 L448.0 464.1 L449.0 461.2 L450.1 458.4 L451.1 455.6 L452.2 452.8 L453.3 450.0 L454.3 447.2 L455.4 444.4 L456.5 441.6 L457.6 438.8 L458.7 436.1 L459.9 433.3 L461.0 430.5 L462.1 427.7 L463.3 425.0 L464.5 422.2 L465.6 419.4 L466.8 416.7 L468.0 413.9 L469.2 411.2 L470.4 408.4 L471.6 405.7 L472.8 403.0 L474.1 400.2 L475.3 397.5 L476.6 394.8 L477.9 392.1 L479.2 389.4 L480.4 386.7 L481.8 384.0 L483.1 381.3 L484.4 378.6 L485.7 375.9 L487.1 373.2 L488.5 370.6 L489.8 367.9 L491.2 365.2 L492.6 362.6 L494.0 359.9 L495.5 357.3 L496.9 354.7 L498.4 352.1 L499.8 349.4 L501.3 346.8 L502.8 344.2 L504.3 341.7 L505.8 339.1 L507.4 336.5 L508.9 333.9 L510.5 331.4 L512.1 328.8 L513.7 326.3 L515.3 323.8 L516.9 321.2 L518.6 318.7 L520.2 316.2 L521.9 313.8 L523.6 311.3 L525.3 308.8 L527.0 306.4 L528.8 303.9 L530.5 301.5 L532.3 299.1 L534.1 296.7 L535.9 294.3 L537.7 291.9 L539.6 289.5 L541.4 287.2 L543.3 284.9 L545.2 282.5 L547.1 280.2 L549.1 277.9 L551.0 275.7 L553.0 273.4 L555.0 271.2 L557.0 268.9 L559.0 266.7 L561.0 264.5 L563.1 262.3 L565.2 260.2 L567.3 258.0 L569.4 255.9 L571.5 253.8 L573.7 251.7 L575.9 249.7 L578.1 247.6 L580.3 245.6 L582.5 243.6 L584.8 241.6 L587.0 239.7 L589.3 237.7 L591.6 235.8 L593.9 233.9 L596.3 232.0 L598.6 230.2 L601.0 228.3 L603.4 226.5 L605.8 224.7 L608.2 223.0 L610.7 221.2 L613.1 219.5 L615.6 217.8 L618.1 216.1 L620.6 214.5 L623.1 212.9 L625.6 211.3 L628.2 209.7 L630.8 208.2 L633.3 206.6 L635.9 205.1 L638.6 203.7 L641.2 202.2 L643.8 200.8 L646.5 199.4 L649.1 198.0 L651.8 196.6 L654.5 195.3 L657.2 194.0 L659.9 192.7 L662.6 191.5 L665.3 190.2 L668.1 189.0 L670.8 187.8 L673.6 186.6 L676.4 185.5 L679.1 184.4 L681.9 183.3 L684.7 182.2 L687.5 181.1 L690.3 180.1 L693.2 179.1 L696.0 178.1 L698.8 177.1 L701.7 176.2 L704.5 175.2 L707.4 174.3 L710.2 173.4 L713.1 172.5 L716.0 171.7 L718.9 170.8 L721.7 170.0 L724.6 169.2 L727.5 168.4 L730.4 167.7 L733.3 166.9 L736.2 166.2 L739.1 165.5 L742.1 164.8 L745.0 164.1 L747.9 163.4 L750.8 162.8 L753.8 162.1 L756.7 161.5 L759.6 160.9 L762.6 160.3 L765.5 159.7 L768.5 159.2 L771.4 158.6 L774.3 158.1 L777.3 157.5 L780.3 157.0 L783.2 156.5 L786.2 156.0 L789.1 155.5 L792.1 155.1 L795.0 154.6 L798.0 154.2 L801.0 153.7 L803.9 153.3 L806.9 152.9 L809.9 152.5 L812.9 152.1 L815.8 151.7 L818.8 151.3 L821.8 151.0 L824.8 150.6 L827.7 150.2 L830.7 149.9 L833.7 149.6 L836.7 149.2 L839.7 148.9 L842.6 148.6 L845.6 148.3 L848.6 148.0 L851.6 147.7 L854.6 147.4 L857.6 147.2 L860.5 146.9 L863.5 146.6 L866.5 146.4 L869.5 146.1 L872.5 145.9 L875.5 145.6 L878.5 145.4 L881.5 145.2 L884.5 145.0 L887.4 144.8 L890.4 144.5 L893.4 144.3 L896.4 144.1 L899.4 143.9 L902.4 143.8 L905.4 143.6 L908.4 143.4 L911.4 143.2 L914.4 143.0 L917.4 142.9 L920.4 142.7 L923.4 142.6 L926.3 142.4 L929.3 142.2 L932.3 142.1 L935.3 142.0 L938.3 141.8 L941.3 141.7 L944.3 141.5 L947.3 141.4 L950.3 141.3 L953.3 141.2 L956.3 141.0 L959.3 140.9 L962.3 140.8 L965.3 140.7 L968.3 140.6 L971.3 140.5 L974.3 140.4 L977.3 140.3 L980.3 140.2 L983.3 140.1 L986.3 140.0 L989.3 139.9 L992.3 139.8 L995.2 139.7 L998.2 139.6 L1001.2 139.5 L1004.2 139.4 L1007.2 139.4 L1010.2 139.3 L1013.2 139.2 L1016.2 139.1 L1019.2 139.1 L1022.2 139.0 L1025.2 138.9 L1028.2 138.9 L1031.2 138.8 L1034.2 138.7 L1037.2 138.7 L1040.2 138.6 L1043.2 138.5 L1046.2 138.5 L1049.2 138.4 L1052.2 138.4 L1055.2 138.3 L1058.2 138.3 L1061.2 138.2 L1064.2 138.2 L1067.2 138.1 L1070.2 138.1 L1073.2 138.0 L1076.2 138.0 L1079.2 137.9 L1082.2 137.9 L1085.2 137.9 L1088.2 137.8 L1091.2 137.8 L1094.2 137.7 L1097.2 137.7 L1100.2 137.7 L1103.2 137.6 L1106.2 137.6 L1109.2 137.6 L1112.2 137.5 L1115.2 137.5 L1118.2 137.5 L1121.1 137.4 L1124.1 137.4 L1127.1 137.4 L1130.1 137.3 L1133.1 137.3 L1136.1 137.3 L1139.1 137.3 L1142.1 137.2 L1145.1 137.2 L1148.1 137.2 L1151.1 137.2 L1154.1 137.1 L1157.1 137.1 L1160.1 137.1 L1163.1 137.1 L1166.1 137.0 L1169.1 137.0 L1172.1 137.0 L1175.1 137.0 L1178.1 137.0 L1181.1 136.9 L1184.1 136.9 L1187.1 136.9 L1190.1 136.9 L1193.1 136.9 L1196.1 136.9 L1199.1 136.8 L1202.1 136.8 L1205.1 136.8 L1208.1 136.8 L1211.1 136.8 L1214.1 136.8 L1217.1 136.8 L1220.1 136.7 L1223.1 136.7 L1226.1 136.7 L1229.1 136.7 L1232.1 136.7 L1235.1 136.7 L1238.1 136.7 L1241.1 136.7 L1244.1 136.6 L1247.1 136.6 L1250.1 136.6 L1253.1 136.6 L1256.1 136.6 L1259.1 136.6 L1262.1 136.6 L1265.1 136.6 L1268.1 136.6 L1271.1 136.6 L1274.1 136.5 L1277.0 136.5 L1280.0 136.5 L1283.0 136.5 L1286.0 136.5 L1289.0 136.5 L1292.0 136.5 L1295.0 136.5 L1298.0 136.5 L1301.0 136.5 L1304.0 136.5 L1307.0 136.5 L1310.0 136.5 L1313.0 136.5 L1316.0 136.4 L1319.0 136.4 L1322.0 136.4 L1325.0 136.4 L1328.0 136.4 L1331.0 136.4 L1334.0 136.4 L1337.0 136.4 L1340.0 136.4 L1343.0 136.4 L1346.0 136.4 L1349.0 136.4 L1352.0 136.4 L1355.0 136.4 L1358.0 136.4 L1361.0 136.4 L1364.0 136.4 L1367.0 136.4 L1370.0 136.4 L1373.0 136.4 L1376.0 136.3 L1379.0 136.3 L1382.0 136.3 L1385.0 136.3 L1388.0 136.3 L1391.0 136.3 L1394.0 136.3 L1397.0 136.3 L1400.0 136.3 L1403.0 136.3 L1406.0 136.3 L1409.0 136.3 L1412.0 136.3 L1415.0 136.3 L1418.0 136.3 L1421.0 136.3 L1424.0 136.3 L1427.0 136.3 L1430.0 136.3 L1433.0 136.3 L1436.0 136.3 L1438.9 136.3 L1441.9 136.3 L1444.9 136.3 L1447.9 136.3 L1450.9 136.3 L1453.9 136.3 L1456.9 136.3 L1459.9 136.3 L1462.9 136.3 L1465.9 136.3 L1468.9 136.3 L1471.9 136.3 L1474.9 136.3 L1477.9 136.3 L1480.9 136.3 L1483.9 136.3 L1486.9 136.3 L1489.9 136.3 L1492.9 136.3 L1495.9 136.3 L1498.9 136.3 L1501.9 136.3 L1504.9 136.3 L1507.9 136.2 L1510.9 136.2 L1513.9 136.2 L1516.9 136.2 L1519.9 136.2 L1522.9 136.2 L1525.9 136.2 L1528.9 136.2 L1531.9 136.2 L1534.9 136.2 L1537.9 136.2 L1540.9 136.2 L1543.9 136.2 L1546.9 136.2 L1549.9 136.2 L1552.9 136.2 L1555.9 136.2 L1558.9 136.2 L1561.9 136.2 L1564.9 136.2 L1567.9 136.2 L1570.9 136.2 L1573.9 136.2 L1576.9 136.2 L1579.9 136.2 L1582.9 136.2 L1585.9 136.2 L1588.9 136.2 L1591.9 136.2 L1594.9 136.2 L1597.9 136.2 L1600.8 136.2 L1603.8 136.2 L1606.8 136.2 L1609.8 136.2 L1612.8 136.2 L1615.8 136.2 L1618.8 136.2 L1621.8 136.2 L1624.8 136.2 L1627.8 136.2 L1630.8 136.2 L1633.8 136.2 L1636.8 136.2 L1639.8 136.2 L1642.8 136.2 L1645.8 136.2 L1648.8 136.2 L1651.8 136.2 L1654.8 136.2 L1657.8 136.2 L1660.8 136.2 L1663.8 136.2 L1666.8 136.2 L1669.8 136.2 L1672.8 136.2 L1675.8 136.2 L1678.8 136.2 L1681.8 136.2 L1684.8 136.2 L1687.8 136.2 L1690.8 136.2 L1693.8 136.2 L1696.8 136.2 L1699.8 136.2 L1702.8 136.2 L1705.8 136.2 L1708.8 136.2 L1711.8 136.2 L1714.8 136.2 L1717.8 136.2 L1720.8 136.2 L1723.8 136.2 L1726.8 136.2 L1729.8 136.2 L1732.8 136.2 L1735.8 136.2 L1738.8 136.2 L1741.8 136.2 L1744.8 136.2 L1747.8 136.2 L1750.8 136.2 L1753.8 136.2 L1756.8 136.2 L1759.8 136.2 L1762.7 136.2 L1765.7 136.2 L1768.7 136.2 L1771.7 136.2 L1774.7 136.2 L1777.7 136.2 L1780.7 136.2 L1783.7 136.2 L1786.7 136.2 L1789.7 136.2 L1792.7 136.2 L1795.7 136.2 L1798.7 136.2 L1801.7 136.2 L1804.7 136.2 L1807.7 136.2 L1810.7 136.2 L1813.7 136.2 L1816.7 136.2 L1819.7 136.2 L1822.7 136.2 L1825.7 136.2 L1828.7 136.2 L1831.7 136.2 L1834.7 136.2 L1837.7 136.2 L1840.7 136.2 L1843.7 136.2 L1846.7 136.2 L1849.7 136.2 L1852.7 136.2 L1855.7 136.2 L1858.7 136.2 L1861.7 136.2 L1864.7 136.2 L1867.7 136.2 L1870.7 136.2 L1873.7 136.2 L1876.7 136.2 L1879.7 136.2 L1882.7 136.2 L1885.7 136.2 L1888.7 136.2 L1891.7 136.2 L1894.7 136.2 L1897.7 136.2 L1900.7 136.2 L1903.7 136.2 L1906.7 136.2 L1909.7 136.2 L1912.7 136.2 L1915.7 136.2 L1918.7 136.2 L1921.7 136.2 L1924.6 136.2 L1927.6 136.2 L1930.6 136.2 L1933.6 136.2 L1936.6 136.2 L1939.6 136.2 L1942.6 136.2 L1945.6 136.2 L1948.6 136.2 L1951.6 136.2 L1954.6 136.2 L1957.6 136.2 L1960.6 136.2 L1963.6 136.2 L1966.6 136.2 L1969.6 136.2 L1972.6 136.2 L1975.6 136.2 L1978.6 136.2 L1981.6 136.2 L1984.6 136.2 L1987.6 136.2 L1990.6 136.2 L1993.6 136.2 L1996.6 136.2 L1999.6 136.2 L2002.6 136.2 L2005.6 136.2 L2008.6 136.2 L2011.6 136.2 L2014.6 136.2 L2017.6 136.2 L2020.6 136.2 L2023.6 136.2 L2026.6 136.2 L2029.6 136.2 L2032.6 136.2 L2035.6 136.2 L2038.6 136.2 L2041.6 136.2 L2044.6 136.2 L2047.6 136.2 L2050.6 136.2 L2053.6 136.2 L2056.6 136.2 L2059.6 136.2 L2062.6 136.2 L2065.6 136.2 L2068.6 136.2 L2071.6 136.2 L2074.6 136.2 L2077.6 136.2 L2080.6 136.2 L2083.6 136.2 L2086.5 136.2 L2089.5 136.2 L2092.5 136.2 L2095.5 136.2 L2098.5 136.2 L2101.5 136.2 L2104.5 136.2 L2107.5 136.2 L2110.5 136.2 L2113.5 136.2 L2116.5 136.2 L2119.5 136.2 L2122.5 136.2 L2125.5 136.2 L2128.5 136.2 L2131.5 136.2 L2134.5 136.2 L2137.5 136.2 L2140.5 136.2 L2143.5 136.2 L2146.5 136.2 L2149.5 136.2 L2152.5 136.2 L2155.5 136.2 L2158.5 136.2 L2161.5 136.2 L2164.5 136.2 L2167.5 136.2 L2170.5 136.2 L2173.5 136.2 L2176.5 136.2 L2179.5 136.2 L2182.5 136.2 L2185.5 136.2 L2188.5 136.2 L2191.5 136.2 L2194.5 136.2 L2197.5 136.2 L2200.5 136.2 L2203.5 136.2 L2206.5 136.2 L2209.5 136.2 L2212.5 136.2 L2215.5 136.2 L2218.5 136.2 L2221.5 136.2 L2224.5 136.2 L2227.5 136.2 L2230.5 136.2 L2233.5 136.2 L2236.5 136.2 L2239.5 136.2 L2242.5 136.2 L2245.5 136.2 L2248.4 136.2 L2251.4 136.2 L2254.4 136.2 L2257.4 136.2 L2260.4 136.2 L2263.4 136.2 L2266.4 136.2 L2269.4 136.2 L2272.4 136.2 L2275.4 136.2 L2278.4 136.2 L2281.4 136.2 L2284.4 136.2 L2287.4 136.2 L2290.4 136.2 L2293.4 136.2 L2296.4 136.2 L2299.4 136.2 L2302.4 136.2 L2305.4 136.2 L2308.4 136.2 L2311.4 136.2 L2314.4 136.2 L2317.4 136.2 L2320.4 136.2 L2323.4 136.2 L2326.4 136.2 L2329.4 136.2" stroke="#000000" stroke-width="10.6" stroke-linecap="butt" transform="translate(-0.9 0)"/>
<path d="M264.8 1428.3 L267.9 1424.8 L270.2 1420.6 L272.0 1416.2 L273.6 1411.7 L275.0 1407.2 L276.3 1402.6 L277.5 1398.0 L278.6 1393.4 L279.7 1388.8 L280.7 1384.1M290.6 1329.3 L291.4 1324.6 L292.2 1319.9 L292.9 1315.2 L293.6 1310.5 L294.4 1305.8 L295.1 1301.1 L295.8 1296.4 L296.5 1291.7 L297.2 1287.0 L298.0 1282.3M307.7 1216.7 L308.3 1212.0 L309.0 1207.3 L309.7 1202.6 L310.4 1197.9 L311.1 1193.2 L311.8 1188.5 L312.5 1183.8 L313.2 1179.1 L313.9 1174.4 L314.6 1169.7M324.5 1104.1 L325.3 1099.5 L326.0 1094.8 L326.7 1090.1 L327.5 1085.4 L328.2 1080.7 L329.0 1076.0 L329.7 1071.3 L330.5 1066.6 L331.2 1061.9 L332.0 1057.2M341.7 999.5 L342.5 994.9 L343.3 990.2 L344.2 985.5 L345.0 980.8 L345.8 976.1 L346.7 971.5 L347.5 966.8 L348.4 962.1 L349.2 957.5 L350.1 952.8M362.6 888.5 L363.5 883.9 L364.5 879.2 L365.4 874.5 L366.4 869.9 L367.4 865.3 L368.4 860.6 L369.4 856.0 L370.4 851.3 L371.4 846.7 L372.4 842.0M385.4 786.3 L386.5 781.7 L387.7 777.1 L388.8 772.5 L390.0 767.8 L391.2 763.2 L392.3 758.6 L393.5 754.0 L394.7 749.5 L396.0 744.9 L397.2 740.3M418.0 669.4 L419.4 664.8 L420.9 660.3 L422.3 655.8 L423.8 651.3 L425.4 646.8 L426.9 642.3 L428.4 637.8 L430.0 633.3 L431.6 628.9 L433.2 624.4M465.3 545.9 L467.4 541.6 L469.4 537.3 L471.5 533.1 L473.6 528.8 L475.8 524.6 L477.9 520.3 L480.1 516.1 L482.4 511.9 L484.6 507.8 L486.9 503.6M528.1 440.8 L531.1 437.1 L534.0 433.4 L537.1 429.7 L540.1 426.1 L543.2 422.5 L546.4 419.0 L549.6 415.5 L552.9 412.0 L556.2 408.6 L559.5 405.2M606.0 366.7 L609.9 364.0 L613.9 361.4 L617.9 358.9 L622.0 356.4 L626.0 354.0 L630.2 351.7 L634.3 349.4 L638.5 347.1 L642.7 344.9 L647.0 342.8M695.4 323.2 L700.1 321.7 L704.9 320.2 L709.7 318.8 L714.5 317.4 L719.3 316.0 L724.1 314.7 L729.0 313.5 L733.8 312.3 L738.7 311.1M797.9 300.2 L802.5 299.5 L807.0 298.9 L811.6 298.3 L816.1 297.7 L820.7 297.2 L825.3 296.6 L829.9 296.1 L834.4 295.6 L839.0 295.1 L843.6 294.7M904.5 289.9 L909.2 289.6 L913.8 289.3 L918.5 289.1 L923.2 288.8 L927.9 288.6 L932.5 288.4 L937.2 288.1 L941.9 287.9 L946.6 287.7 L951.2 287.5M997.4 285.9 L1002.2 285.8 L1006.9 285.7 L1011.6 285.5 L1016.3 285.4 L1021.0 285.3 L1025.7 285.2 L1030.5 285.1 L1035.2 285.0 L1039.9 284.9 L1044.6 284.8M1106.4 283.9 L1111.1 283.8 L1115.8 283.8 L1120.6 283.7 L1125.3 283.7 L1130.0 283.6 L1134.8 283.6 L1139.5 283.5 L1144.2 283.5 L1149.0 283.4 L1153.7 283.4M1215.6 283.0 L1220.3 283.0 L1225.1 283.0 L1229.8 282.9 L1234.6 282.9 L1239.3 282.9 L1244.0 282.9 L1248.8 282.9 L1253.5 282.8 L1258.3 282.8 L1263.0 282.8M1309.1 282.7 L1313.9 282.7 L1318.6 282.7 L1323.4 282.7 L1328.1 282.6 L1332.9 282.6 L1337.6 282.6 L1342.4 282.6 L1347.1 282.6 L1351.9 282.6 L1356.6 282.6M1418.6 282.5 L1423.3 282.5 L1428.1 282.5 L1432.8 282.5 L1437.6 282.5 L1442.3 282.5 L1447.0 282.5 L1451.8 282.5 L1456.5 282.5 L1461.3 282.5 L1466.0 282.5M1528.0 282.4 L1532.7 282.4 L1537.5 282.4 L1542.2 282.4 L1547.0 282.4 L1551.7 282.4 L1556.5 282.4 L1561.2 282.4 L1566.0 282.4 L1570.7 282.4 L1575.5 282.4M1622.1 282.4 L1626.9 282.4 L1631.6 282.4 L1636.4 282.4 L1641.1 282.4 L1645.9 282.4 L1650.6 282.4 L1655.4 282.4 L1660.1 282.4 L1664.9 282.4 L1669.6 282.4M1731.6 282.4 L1736.3 282.4 L1741.1 282.4 L1745.8 282.4 L1750.6 282.4 L1755.3 282.4 L1760.1 282.4 L1764.8 282.4 L1769.6 282.4 L1774.3 282.4 L1779.1 282.4M1841.0 282.4 L1845.8 282.4 L1850.5 282.4 L1855.3 282.4 L1860.0 282.4 L1864.8 282.4 L1869.5 282.4 L1874.3 282.4 L1879.0 282.4 L1883.8 282.4 L1888.5 282.4M1935.0 282.4 L1939.8 282.4 L1944.5 282.4 L1949.3 282.4 L1954.0 282.4 L1958.8 282.4 L1963.5 282.4 L1968.3 282.4 L1973.0 282.4 L1977.8 282.4 L1982.5 282.4M2044.5 282.4 L2049.2 282.4 L2054.0 282.4 L2058.7 282.4 L2063.5 282.4 L2068.2 282.4 L2073.0 282.4 L2077.7 282.4 L2082.5 282.4 L2087.2 282.4 L2092.0 282.4M2153.9 282.4 L2158.7 282.4 L2163.4 282.4 L2168.2 282.4 L2172.9 282.4 L2177.7 282.4 L2182.4 282.4 L2187.2 282.4 L2191.9 282.4 L2196.7 282.4 L2201.4 282.4M2246.8 282.4 L2251.6 282.4 L2256.3 282.4 L2261.1 282.4 L2265.8 282.4 L2270.6 282.4 L2275.3 282.4 L2280.1 282.4 L2284.8 282.4 L2289.6 282.4 L2294.3 282.4" stroke="#008080" stroke-width="11.3"/>
<path d="M264.8 1428.4 L268.1 1425.3 L270.5 1421.3M283.3 1379.0 L284.3 1374.5 L285.3 1370.0M296.0 1312.3 L296.8 1307.7 L297.6 1303.2M307.3 1245.3 L308.0 1240.8 L308.8 1236.2M318.4 1178.3 L319.2 1173.8 L319.9 1169.2M330.0 1111.4 L330.8 1106.9 L331.6 1102.3M342.5 1044.6 L343.3 1040.1 L344.2 1035.6M355.9 978.9 L356.8 974.4 L357.8 969.9M370.7 913.9 L371.7 909.5 L372.8 905.0M387.5 848.5 L388.8 844.1 L390.0 839.6M407.0 783.2 L408.4 778.9 L409.9 774.5M430.8 716.3 L432.5 712.1 L434.2 707.8M461.6 646.6 L463.7 642.5 L465.8 638.4M503.2 576.2 L505.8 572.5 L508.5 568.8M548.0 522.7 L551.3 519.5 L554.6 516.3M598.3 481.7 L602.1 479.2 L606.0 476.7M648.5 454.4 L652.8 452.6 L657.0 450.8M698.6 436.3 L702.6 435.1 L706.6 434.0M759.7 422.1 L763.9 421.4 L768.1 420.7M822.5 413.3 L826.8 412.8 L831.2 412.4M886.3 407.9 L890.7 407.6 L895.2 407.3M950.7 404.6 L955.2 404.5 L959.7 404.3M1004.2 403.0 L1008.8 402.9 L1013.3 402.8M1069.2 401.7 L1073.8 401.7 L1078.3 401.6M1134.3 401.0 L1138.9 400.9 L1143.5 400.9M1199.5 400.5 L1204.1 400.5 L1208.7 400.5M1264.7 400.3 L1269.3 400.3 L1273.9 400.2M1316.6 400.1 L1321.2 400.1 L1325.8 400.1M1381.9 400.0 L1386.5 400.0 L1391.1 400.0M1447.2 400.0 L1451.8 400.0 L1456.4 400.0M1512.5 400.0 L1517.1 399.9 L1521.7 399.9M1577.8 399.9 L1582.4 399.9 L1587.0 399.9M1630.6 399.9 L1635.2 399.9 L1639.8 399.9M1695.9 399.9 L1700.5 399.9 L1705.1 399.9M1761.2 399.9 L1765.8 399.9 L1770.4 399.9M1826.5 399.9 L1831.1 399.9 L1835.7 399.9M1891.8 399.9 L1896.4 399.9 L1901.0 399.9M1942.8 399.9 L1947.4 399.9 L1952.0 399.9M2008.1 399.9 L2012.7 399.9 L2017.3 399.9M2073.4 399.9 L2078.0 399.9 L2082.6 399.9M2138.7 399.9 L2143.3 399.9 L2147.9 399.9M2204.0 399.9 L2208.6 399.9 L2213.2 399.9M2256.1 399.9 L2260.6 399.9 L2265.2 399.9" stroke="#808000" stroke-width="11.3"/>
<path d="M264.9 1428.5 L268.3 1425.4 L270.9 1421.5 L272.9 1417.3 L274.7 1412.9 L276.3 1408.5 L277.7 1404.1 L279.1 1399.6 L280.4 1395.1 L281.6 1390.6 L282.7 1386.0 L283.8 1381.5 L284.9 1376.9M290.8 1349.9 L291.7 1345.7 L292.5 1341.4M300.0 1302.3 L300.9 1297.7 L301.7 1293.1 L302.6 1288.5 L303.5 1283.9 L304.3 1279.3 L305.1 1274.7 L306.0 1270.1 L306.8 1265.5 L307.7 1260.9 L308.5 1256.3 L309.4 1251.7 L310.2 1247.1M317.3 1209.2 L318.1 1204.9 L318.9 1200.6M326.4 1161.6 L327.3 1157.0 L328.2 1152.4 L329.1 1147.8 L330.0 1143.2 L330.9 1138.6 L331.8 1134.0 L332.8 1129.4 L333.7 1124.8 L334.6 1120.2 L335.6 1115.7 L336.5 1111.1 L337.5 1106.5M345.6 1068.8 L346.5 1064.6 L347.5 1060.3M356.5 1021.6 L357.6 1017.0 L358.7 1012.5 L359.8 1007.9 L360.9 1003.4 L362.1 998.8 L363.2 994.3 L364.4 989.8 L365.5 985.2 L366.7 980.7 L367.9 976.2 L369.1 971.6 L370.3 967.1M380.2 931.4 L381.4 927.2 L382.7 923.0M394.4 884.9 L395.8 880.5 L397.3 876.0 L398.8 871.6 L400.3 867.1 L401.8 862.7 L403.3 858.3 L404.9 853.9 L406.4 849.4 L408.0 845.0 L409.6 840.6 L411.2 836.2 L412.8 831.8M428.0 793.6 L429.7 789.6 L431.4 785.6M467.3 713.6 L469.6 709.5 L472.0 705.5 L474.5 701.5 L476.9 697.5 L479.4 693.5 L481.9 689.6 L484.5 685.7 L487.1 681.8 L489.7 677.9 L492.4 674.1 L495.1 670.2 L497.9 666.5M526.6 631.5 L529.5 628.3 L532.5 625.1M561.1 598.7 L564.7 595.8 L568.4 592.9 L572.1 590.0 L575.8 587.2 L579.6 584.5 L583.5 581.8 L587.3 579.2 L591.2 576.6 L595.2 574.1 L599.2 571.6 L603.2 569.2 L607.2 566.8M637.5 551.4 L641.5 549.7 L645.5 547.9M713.0 525.9 L717.7 524.7 L722.5 523.6 L727.3 522.5 L732.0 521.5 L736.8 520.5 L741.6 519.5 L746.4 518.6 L751.2 517.7 L756.0 516.9 L760.9 516.0 L765.7 515.2M800.4 510.3 L804.5 509.8 L808.6 509.3M844.9 505.7 L849.4 505.3 L854.0 504.9 L858.6 504.5 L863.2 504.2 L867.8 503.8 L872.3 503.5 L876.9 503.2 L881.5 502.9 L886.1 502.6 L890.7 502.3 L895.3 502.0 L899.9 501.8M935.3 500.0 L939.6 499.9 L943.8 499.7M1017.4 497.5 L1022.1 497.4 L1026.8 497.3 L1031.4 497.2 L1036.1 497.1 L1040.7 497.0 L1045.4 496.9 L1050.1 496.9 L1054.7 496.8 L1059.4 496.7 L1064.0 496.6 L1068.7 496.6 L1073.3 496.5M1109.1 496.0 L1113.4 496.0 L1117.7 496.0M1154.7 495.6 L1159.3 495.6 L1164.0 495.6 L1168.7 495.5 L1173.4 495.5 L1178.0 495.5 L1182.7 495.5 L1187.4 495.4 L1192.1 495.4 L1196.7 495.4 L1201.4 495.3 L1206.1 495.3 L1210.8 495.3M1246.5 495.2 L1250.9 495.1 L1255.2 495.1M1329.1 494.9 L1333.8 494.9 L1338.5 494.9 L1343.2 494.9 L1347.9 494.9 L1352.6 494.9 L1357.2 494.9 L1361.9 494.9 L1366.6 494.9 L1371.3 494.9 L1376.0 494.9 L1380.6 494.9 L1385.3 494.9M1421.1 494.8 L1425.5 494.8 L1429.8 494.8M1466.8 494.8 L1471.5 494.8 L1476.2 494.8 L1480.9 494.8 L1485.5 494.8 L1490.2 494.8 L1494.9 494.8 L1499.6 494.8 L1504.3 494.8 L1509.0 494.8 L1513.6 494.8 L1518.3 494.8 L1523.0 494.8M1558.8 494.7 L1563.1 494.7 L1567.5 494.7M1642.1 494.7 L1646.8 494.7 L1651.5 494.7 L1656.2 494.7 L1660.9 494.7 L1665.6 494.7 L1670.2 494.7 L1674.9 494.7 L1679.6 494.7 L1684.3 494.7 L1689.0 494.7 L1693.7 494.7 L1698.3 494.7M1734.1 494.7 L1738.5 494.7 L1742.8 494.7M1779.8 494.7 L1784.5 494.7 L1789.2 494.7 L1793.9 494.7 L1798.6 494.7 L1803.3 494.7 L1807.9 494.7 L1812.6 494.7 L1817.3 494.7 L1822.0 494.7 L1826.7 494.7 L1831.4 494.7 L1836.0 494.7M1871.8 494.7 L1876.2 494.7 L1880.5 494.7M1955.0 494.7 L1959.7 494.7 L1964.4 494.7 L1969.1 494.7 L1973.8 494.7 L1978.5 494.7 L1983.1 494.7 L1987.8 494.7 L1992.5 494.7 L1997.2 494.7 L2001.9 494.7 L2006.6 494.7 L2011.2 494.7M2047.0 494.7 L2051.4 494.7 L2055.7 494.7M2092.7 494.7 L2097.4 494.7 L2102.1 494.7 L2106.8 494.7 L2111.5 494.7 L2116.2 494.7 L2120.8 494.7 L2125.5 494.7 L2130.2 494.7 L2134.9 494.7 L2139.6 494.7 L2144.3 494.7 L2148.9 494.7M2184.7 494.7 L2189.1 494.7 L2193.4 494.7M2266.8 494.7 L2271.5 494.7 L2276.2 494.7 L2280.9 494.7 L2285.6 494.7 L2290.3 494.7 L2294.9 494.7 L2299.6 494.7 L2304.3 494.7 L2309.0 494.7 L2313.7 494.7 L2318.4 494.7 L2323.0 494.7" stroke="#404040" stroke-width="11.3"/>
<path d="M264.9 1428.7 L268.5 1425.9 L271.3 1422.3 L273.5 1418.3 L275.4 1414.1 L277.1 1409.9 L278.7 1405.6 L280.1 1401.2 L281.5 1396.9 L282.8 1392.5M291.4 1358.5 L292.4 1354.2 L293.3 1350.0M301.0 1314.2 L301.9 1310.0 L302.8 1305.7M310.6 1267.5 L311.5 1263.0 L312.4 1258.5 L313.3 1254.0 L314.2 1249.5 L315.2 1245.0 L316.1 1240.5 L317.0 1236.1 L317.9 1231.6 L318.8 1227.1M326.7 1189.6 L327.6 1185.3 L328.5 1181.1M336.4 1145.4 L337.3 1141.1 L338.3 1136.9M347.3 1098.9 L348.3 1094.4 L349.4 1090.0 L350.5 1085.5 L351.6 1081.1 L352.7 1076.6 L353.9 1072.2 L355.0 1067.8 L356.1 1063.3 L357.3 1058.9M365.0 1030.1 L366.2 1025.9 L367.4 1021.7M378.3 984.5 L379.6 980.3 L380.9 976.1M393.5 937.8 L395.0 933.5 L396.5 929.2 L398.1 924.8 L399.6 920.5 L401.2 916.2 L402.8 911.9 L404.4 907.7 L406.0 903.4 L407.7 899.1M422.4 863.1 L424.2 859.1 L425.9 855.1M443.1 819.3 L445.1 815.4 L447.1 811.6M466.8 777.2 L469.2 773.3 L471.6 769.5 L474.1 765.6 L476.7 761.8 L479.2 758.0 L481.8 754.3 L484.5 750.5 L487.1 746.8 L489.9 743.1M517.8 709.5 L520.7 706.3 L523.8 703.2M551.7 677.4 L555.1 674.7 L558.5 672.0M585.4 653.1 L589.3 650.7 L593.2 648.4 L597.2 646.1 L601.2 643.8 L605.2 641.6 L609.2 639.5 L613.3 637.4 L617.4 635.4 L621.5 633.4M649.0 621.8 L653.1 620.2 L657.2 618.8M686.5 609.4 L690.7 608.3 L694.9 607.2M712.0 603.0 L716.8 601.9 L721.6 600.8 L726.4 599.8 L731.2 598.9 L736.1 597.9 L740.9 597.0 L745.7 596.2 L750.6 595.3M785.4 590.2 L789.5 589.7 L793.5 589.2M827.6 585.6 L831.8 585.2 L835.9 584.9M872.0 582.2 L876.5 581.9 L881.0 581.6 L885.5 581.4 L890.0 581.1 L894.5 580.9 L899.0 580.6 L903.5 580.4 L908.0 580.2 L912.5 580.0M948.1 578.5 L952.4 578.4 L956.6 578.2M991.3 577.2 L995.5 577.1 L999.8 577.0M1018.5 576.6 L1023.1 576.5 L1027.7 576.4 L1032.2 576.4 L1036.8 576.3 L1041.3 576.2 L1045.9 576.1 L1050.4 576.1 L1055.0 576.0 L1059.5 575.9M1095.3 575.5 L1099.7 575.4 L1104.0 575.4M1138.7 575.1 L1143.1 575.0 L1147.4 575.0M1184.0 574.8 L1188.5 574.8 L1193.1 574.7 L1197.7 574.7 L1202.3 574.7 L1206.8 574.7 L1211.4 574.6 L1216.0 574.6 L1220.5 574.6 L1225.1 574.6M1261.0 574.5 L1265.3 574.5 L1269.7 574.4M1304.5 574.4 L1308.8 574.4 L1313.1 574.3M1329.1 574.3 L1333.7 574.3 L1338.3 574.3 L1342.9 574.3 L1347.5 574.3 L1352.0 574.3 L1356.6 574.3 L1361.2 574.3 L1365.8 574.3 L1370.3 574.3M1406.2 574.2 L1410.6 574.2 L1414.9 574.2M1449.7 574.2 L1454.1 574.2 L1458.4 574.2M1495.0 574.2 L1499.6 574.2 L1504.2 574.2 L1508.7 574.2 L1513.3 574.1 L1517.9 574.1 L1522.5 574.1 L1527.0 574.1 L1531.6 574.1 L1536.2 574.1M1572.1 574.1 L1576.5 574.1 L1580.8 574.1M1615.6 574.1 L1619.9 574.1 L1624.3 574.1M1643.2 574.1 L1647.8 574.1 L1652.4 574.1 L1657.0 574.1 L1661.6 574.1 L1666.1 574.1 L1670.7 574.1 L1675.3 574.1 L1679.9 574.1 L1684.4 574.1M1720.3 574.1 L1724.7 574.1 L1729.0 574.1M1763.8 574.1 L1768.2 574.1 L1772.5 574.1M1809.1 574.1 L1813.7 574.1 L1818.3 574.1 L1822.9 574.1 L1827.5 574.1 L1832.0 574.1 L1836.6 574.1 L1841.2 574.1 L1845.8 574.1 L1850.3 574.1M1886.2 574.1 L1890.6 574.1 L1894.9 574.1M1929.7 574.1 L1934.1 574.1 L1938.4 574.1M1956.2 574.1 L1960.8 574.1 L1965.4 574.1 L1970.0 574.1 L1974.6 574.1 L1979.1 574.1 L1983.7 574.1 L1988.3 574.1 L1992.9 574.1 L1997.4 574.1M2033.3 574.1 L2037.7 574.1 L2042.0 574.1M2076.8 574.1 L2081.2 574.1 L2085.5 574.1M2122.1 574.1 L2126.7 574.1 L2131.3 574.1 L2135.9 574.1 L2140.5 574.1 L2145.0 574.1 L2149.6 574.1 L2154.2 574.1 L2158.8 574.1 L2163.3 574.1M2199.2 574.1 L2203.6 574.1 L2207.9 574.1M2242.7 574.1 L2247.1 574.1 L2251.4 574.1M2269.2 574.1 L2273.7 574.1 L2278.3 574.1 L2282.9 574.1 L2287.5 574.1 L2292.0 574.1 L2296.6 574.1 L2301.2 574.1 L2305.8 574.1 L2310.3 574.1" stroke="#800080" stroke-width="11.3"/>
<path d="M264.9 1428.7 L268.4 1426.0 L271.1 1422.5 L273.3 1418.6 L275.2 1414.6M282.7 1393.2 L284.0 1388.9 L285.2 1384.7 L286.3 1380.4 L287.5 1376.1M295.5 1343.4 L296.4 1339.1 L297.4 1334.8 L298.4 1330.5 L299.4 1326.2M306.9 1292.3 L307.9 1288.0 L308.8 1283.7 L309.8 1279.4 L310.7 1275.1M318.4 1240.7 L319.4 1236.4 L320.4 1232.0 L321.3 1227.7 L322.3 1223.4M330.3 1189.3 L331.4 1185.0 L332.4 1180.7 L333.5 1176.4 L334.5 1172.1M342.6 1140.2 L343.7 1135.9 L344.8 1131.6 L346.0 1127.3 L347.1 1123.0M356.1 1090.7 L357.3 1086.4 L358.6 1082.2 L359.8 1077.9 L361.1 1073.7M371.0 1041.6 L372.3 1037.3 L373.7 1033.1 L375.1 1028.9 L376.5 1024.7M388.6 990.3 L390.1 986.1 L391.7 982.0 L393.2 977.8 L394.8 973.7M408.4 940.3 L410.2 936.2 L412.0 932.1 L413.8 928.1 L415.6 924.1M431.9 890.3 L433.9 886.4 L436.0 882.5 L438.1 878.6 L440.2 874.7M464.4 834.5 L466.9 830.8 L469.3 827.1 L471.9 823.5 L474.4 819.9M497.3 790.7 L500.2 787.4 L503.1 784.1 L506.1 780.8 L509.1 777.6M533.1 754.2 L536.5 751.3 L539.8 748.4 L543.2 745.6 L546.7 742.8M571.9 724.6 L575.7 722.2 L579.4 719.9 L583.2 717.6 L587.0 715.3M615.1 700.7 L619.1 698.8 L623.2 697.0 L627.2 695.3 L631.3 693.6M659.5 683.1 L663.7 681.8 L668.0 680.4 L672.2 679.1 L676.4 677.9M717.0 667.8 L721.1 667.0 L725.2 666.2 L729.3 665.4 L733.4 664.6M764.0 659.5 L768.2 658.9 L772.4 658.3 L776.6 657.8 L780.8 657.2M811.8 653.7 L816.0 653.2 L820.3 652.8 L824.5 652.4 L828.8 652.1M860.1 649.6 L864.4 649.3 L868.7 649.0 L873.0 648.8 L877.3 648.5M908.7 646.8 L913.0 646.6 L917.4 646.4 L921.7 646.2 L926.1 646.0M957.6 644.9 L962.0 644.7 L966.3 644.6 L970.7 644.5 L975.1 644.3M1023.2 643.2 L1027.6 643.1 L1032.0 643.0 L1036.4 643.0 L1040.8 642.9M1072.4 642.4 L1076.8 642.3 L1081.2 642.3 L1085.6 642.2 L1090.1 642.2M1121.7 641.9 L1126.1 641.8 L1130.5 641.8 L1134.9 641.7 L1139.3 641.7M1171.0 641.5 L1175.4 641.5 L1179.8 641.4 L1184.2 641.4 L1188.7 641.4M1220.3 641.2 L1224.8 641.2 L1229.2 641.2 L1233.6 641.2 L1238.0 641.2M1269.7 641.1 L1274.1 641.1 L1278.5 641.0 L1283.0 641.0 L1287.4 641.0M1335.0 640.9 L1339.5 640.9 L1343.9 640.9 L1348.3 640.9 L1352.7 640.9M1384.4 640.9 L1388.9 640.8 L1393.3 640.8 L1397.7 640.8 L1402.1 640.8M1433.8 640.8 L1438.2 640.8 L1442.7 640.8 L1447.1 640.8 L1451.5 640.8M1483.2 640.8 L1487.6 640.8 L1492.1 640.8 L1496.5 640.8 L1500.9 640.8M1532.6 640.7 L1537.0 640.7 L1541.5 640.7 L1545.9 640.7 L1550.3 640.7M1582.0 640.7 L1586.4 640.7 L1590.9 640.7 L1595.3 640.7 L1599.7 640.7M1646.8 640.7 L1651.3 640.7 L1655.7 640.7 L1660.1 640.7 L1664.5 640.7M1696.2 640.7 L1700.7 640.7 L1705.1 640.7 L1709.5 640.7 L1713.9 640.7M1745.6 640.7 L1750.1 640.7 L1754.5 640.7 L1758.9 640.7 L1763.3 640.7M1795.0 640.7 L1799.5 640.7 L1803.9 640.7 L1808.3 640.7 L1812.7 640.7M1844.4 640.7 L1848.9 640.7 L1853.3 640.7 L1857.7 640.7 L1862.1 640.7M1893.8 640.7 L1898.3 640.7 L1902.7 640.7 L1907.1 640.7 L1911.5 640.7M1960.9 640.7 L1965.4 640.7 L1969.8 640.7 L1974.2 640.7 L1978.6 640.7M2010.3 640.7 L2014.8 640.7 L2019.2 640.7 L2023.6 640.7 L2028.0 640.7M2059.7 640.7 L2064.2 640.7 L2068.6 640.7 L2073.0 640.7 L2077.4 640.7M2109.1 640.7 L2113.6 640.7 L2118.0 640.7 L2122.4 640.7 L2126.8 640.7M2158.5 640.7 L2163.0 640.7 L2167.4 640.7 L2171.8 640.7 L2176.2 640.7M2207.9 640.7 L2212.4 640.7 L2216.8 640.7 L2221.2 640.7 L2225.6 640.7M2273.9 640.7 L2278.3 640.7 L2282.7 640.7 L2287.1 640.7 L2291.5 640.7" stroke="#000080" stroke-width="11.3"/>
</g></g>
<g filter="url(#bc)">
<rect x="1597.3" y="745.0" width="532.9" height="729.4" fill="none" stroke="#969696" stroke-width="6.2"/>
<line x1="1641.0" y1="814.4" x2="1807.8" y2="814.4" stroke="#000000" stroke-width="11.5" stroke-linecap="round"/>
<line x1="1640.8" y1="933.2" x2="1687.7" y2="933.2" stroke="#008080" stroke-width="11.5" stroke-linecap="round"/>
<line x1="1750.2" y1="933.2" x2="1797.5" y2="933.2" stroke="#008080" stroke-width="11.5" stroke-linecap="round"/>
<line x1="1640.0" y1="1052.0" x2="1649.2" y2="1052.0" stroke="#808000" stroke-width="11.5" stroke-linecap="round"/>
<line x1="1705.5" y1="1052.0" x2="1714.8" y2="1052.0" stroke="#808000" stroke-width="11.5" stroke-linecap="round"/>
<line x1="1770.8" y1="1052.0" x2="1780.0" y2="1052.0" stroke="#808000" stroke-width="11.5" stroke-linecap="round"/>
<line x1="1641.2" y1="1171.0" x2="1697.2" y2="1171.0" stroke="#404040" stroke-width="11.5" stroke-linecap="round"/>
<line x1="1734.2" y1="1171.0" x2="1742.8" y2="1171.0" stroke="#404040" stroke-width="11.5" stroke-linecap="round"/>
<line x1="1641.2" y1="1289.8" x2="1682.0" y2="1289.8" stroke="#800080" stroke-width="11.5" stroke-linecap="round"/>
<line x1="1717.8" y1="1289.8" x2="1726.5" y2="1289.8" stroke="#800080" stroke-width="11.5" stroke-linecap="round"/>
<line x1="1762.2" y1="1289.8" x2="1770.7" y2="1289.8" stroke="#800080" stroke-width="11.5" stroke-linecap="round"/>
<line x1="1641.2" y1="1409.0" x2="1658.5" y2="1409.0" stroke="#000080" stroke-width="11.5" stroke-linecap="round"/>
<line x1="1691.2" y1="1409.0" x2="1708.5" y2="1409.0" stroke="#000080" stroke-width="11.5" stroke-linecap="round"/>
<line x1="1740.8" y1="1409.0" x2="1757.8" y2="1409.0" stroke="#000080" stroke-width="11.5" stroke-linecap="round"/>
<line x1="1790.8" y1="1409.0" x2="1807.8" y2="1409.0" stroke="#000080" stroke-width="11.5" stroke-linecap="round"/>
</g>
</svg></body></html>
